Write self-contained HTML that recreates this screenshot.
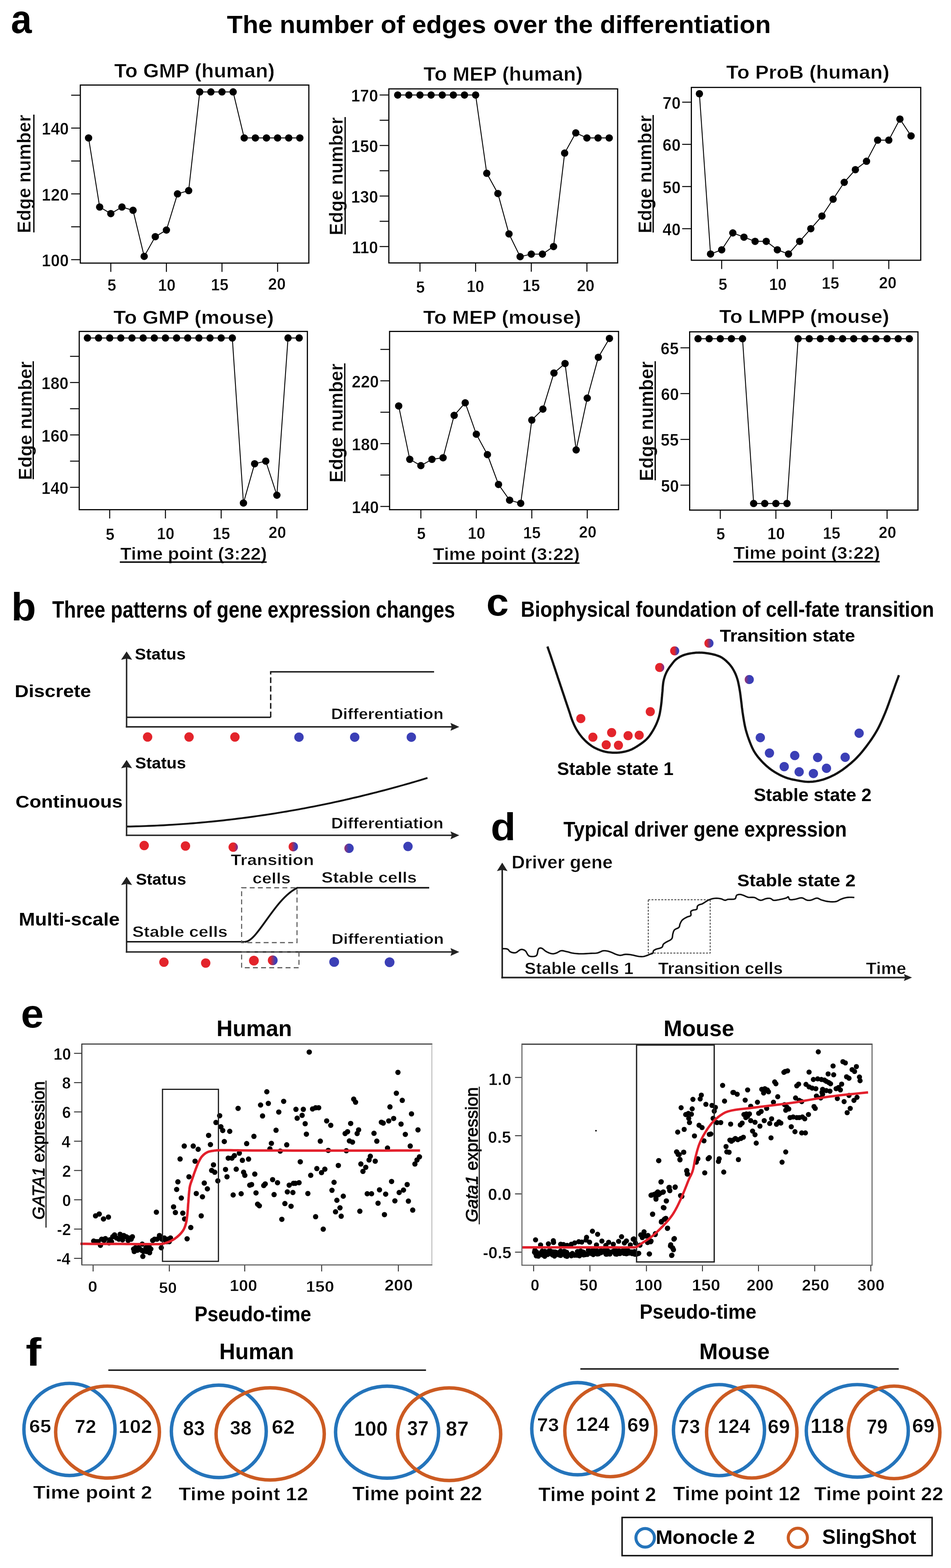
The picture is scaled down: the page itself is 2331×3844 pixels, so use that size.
<!DOCTYPE html>
<html><head><meta charset="utf-8"><title>Figure</title>
<style>html,body{margin:0;padding:0;background:#fff;}svg{display:block;}
text{font-family:"Liberation Sans",sans-serif;}</style></head>
<body><svg width="2331" height="3844" viewBox="0 0 2331 3844">
<rect width="2331" height="3844" fill="#fff"/>
<text x="26.7" y="81.4" font-size="98.2" font-weight="bold" font-style="normal" textLength="51.1" lengthAdjust="spacingAndGlyphs" fill="#000">a</text>
<text x="556.3" y="81.0" font-size="61.8" font-weight="bold" font-style="normal" textLength="1333.1" lengthAdjust="spacingAndGlyphs" fill="#000">The number of edges over the differentiation</text>
<rect x="196.9" y="208.5" width="560.1" height="436.5" fill="none" stroke="#000" stroke-width="2.8"/>
<line x1="174.4" y1="233.4" x2="196.9" y2="233.4" stroke="#000" stroke-width="2.4"/>
<line x1="174.4" y1="314.0" x2="196.9" y2="314.0" stroke="#000" stroke-width="2.4"/>
<line x1="174.4" y1="394.7" x2="196.9" y2="394.7" stroke="#000" stroke-width="2.4"/>
<line x1="174.4" y1="475.3" x2="196.9" y2="475.3" stroke="#000" stroke-width="2.4"/>
<line x1="174.4" y1="556.0" x2="196.9" y2="556.0" stroke="#000" stroke-width="2.4"/>
<line x1="174.4" y1="636.6" x2="196.9" y2="636.6" stroke="#000" stroke-width="2.4"/>
<line x1="271.6" y1="645.0" x2="271.6" y2="666.5" stroke="#000" stroke-width="2.4"/>
<line x1="407.9" y1="645.0" x2="407.9" y2="666.5" stroke="#000" stroke-width="2.4"/>
<line x1="544.1" y1="645.0" x2="544.1" y2="666.5" stroke="#000" stroke-width="2.4"/>
<line x1="680.4" y1="645.0" x2="680.4" y2="666.5" stroke="#000" stroke-width="2.4"/>
<text x="102.3" y="330.3" font-size="42.3" font-weight="bold" font-style="normal" textLength="66.3" lengthAdjust="spacingAndGlyphs" fill="#000" stroke="#fff" stroke-width="0.7">140</text>
<text x="102.3" y="491.6" font-size="42.3" font-weight="bold" font-style="normal" textLength="66.3" lengthAdjust="spacingAndGlyphs" fill="#000" stroke="#fff" stroke-width="0.7">120</text>
<text x="102.3" y="652.9" font-size="42.3" font-weight="bold" font-style="normal" textLength="66.3" lengthAdjust="spacingAndGlyphs" fill="#000" stroke="#fff" stroke-width="0.7">100</text>
<text x="263.2" y="712.9" font-size="41.4" font-weight="bold" font-style="normal" textLength="21.6" lengthAdjust="spacingAndGlyphs" fill="#000" stroke="#fff" stroke-width="0.7">5</text>
<text x="387.2" y="712.9" font-size="40.8" font-weight="bold" font-style="normal" textLength="43.1" lengthAdjust="spacingAndGlyphs" fill="#000" stroke="#fff" stroke-width="0.7">10</text>
<text x="516.9" y="712.3" font-size="41.4" font-weight="bold" font-style="normal" textLength="43.1" lengthAdjust="spacingAndGlyphs" fill="#000" stroke="#fff" stroke-width="0.7">15</text>
<text x="657.3" y="710.4" font-size="40.8" font-weight="bold" font-style="normal" textLength="43.1" lengthAdjust="spacingAndGlyphs" fill="#000" stroke="#fff" stroke-width="0.7">20</text>
<polyline points="217.1,338.2 244.3,507.6 271.6,523.7 298.9,507.6 326.1,515.6 353.4,628.5 380.6,580.2 407.9,564.0 435.1,475.3 462.4,467.3 489.6,225.3 516.9,225.3 544.1,225.3 571.4,225.3 598.6,338.2 625.9,338.2 653.1,338.2 680.4,338.2 707.7,338.2 734.9,338.2" fill="none" stroke="#000" stroke-width="2.2" stroke-linejoin="round"/>
<circle cx="217.1" cy="338.2" r="9" fill="#000"/>
<circle cx="244.3" cy="507.6" r="9" fill="#000"/>
<circle cx="271.6" cy="523.7" r="9" fill="#000"/>
<circle cx="298.9" cy="507.6" r="9" fill="#000"/>
<circle cx="326.1" cy="515.6" r="9" fill="#000"/>
<circle cx="353.4" cy="628.5" r="9" fill="#000"/>
<circle cx="380.6" cy="580.2" r="9" fill="#000"/>
<circle cx="407.9" cy="564.0" r="9" fill="#000"/>
<circle cx="435.1" cy="475.3" r="9" fill="#000"/>
<circle cx="462.4" cy="467.3" r="9" fill="#000"/>
<circle cx="489.6" cy="225.3" r="9" fill="#000"/>
<circle cx="516.9" cy="225.3" r="9" fill="#000"/>
<circle cx="544.1" cy="225.3" r="9" fill="#000"/>
<circle cx="571.4" cy="225.3" r="9" fill="#000"/>
<circle cx="598.6" cy="338.2" r="9" fill="#000"/>
<circle cx="625.9" cy="338.2" r="9" fill="#000"/>
<circle cx="653.1" cy="338.2" r="9" fill="#000"/>
<circle cx="680.4" cy="338.2" r="9" fill="#000"/>
<circle cx="707.7" cy="338.2" r="9" fill="#000"/>
<circle cx="734.9" cy="338.2" r="9" fill="#000"/>
<text x="280.1" y="190.0" font-size="48.7" font-weight="bold" font-style="normal" textLength="393.3" lengthAdjust="spacingAndGlyphs" fill="#000" stroke="#fff" stroke-width="0.7">To GMP (human)</text>
<g transform="translate(74.8,568.7) rotate(-90)"><text x="-3.0" y="0.0" font-size="45.4" font-weight="bold" font-style="normal" textLength="290.4" lengthAdjust="spacingAndGlyphs" fill="#000" stroke="#fff" stroke-width="0.7">Edge number</text></g>
<line x1="83.0" y1="569.7" x2="83.0" y2="281.0" stroke="#000" stroke-width="3.2"/>
<rect x="953.1" y="217.9" width="560.8" height="426.7" fill="none" stroke="#000" stroke-width="2.8"/>
<line x1="930.6" y1="232.9" x2="953.1" y2="232.9" stroke="#000" stroke-width="2.4"/>
<line x1="930.6" y1="294.8" x2="953.1" y2="294.8" stroke="#000" stroke-width="2.4"/>
<line x1="930.6" y1="356.7" x2="953.1" y2="356.7" stroke="#000" stroke-width="2.4"/>
<line x1="930.6" y1="418.6" x2="953.1" y2="418.6" stroke="#000" stroke-width="2.4"/>
<line x1="930.6" y1="480.6" x2="953.1" y2="480.6" stroke="#000" stroke-width="2.4"/>
<line x1="930.6" y1="542.5" x2="953.1" y2="542.5" stroke="#000" stroke-width="2.4"/>
<line x1="930.6" y1="604.4" x2="953.1" y2="604.4" stroke="#000" stroke-width="2.4"/>
<line x1="1029.4" y1="644.6" x2="1029.4" y2="666.1" stroke="#000" stroke-width="2.4"/>
<line x1="1165.8" y1="644.6" x2="1165.8" y2="666.1" stroke="#000" stroke-width="2.4"/>
<line x1="1302.2" y1="644.6" x2="1302.2" y2="666.1" stroke="#000" stroke-width="2.4"/>
<line x1="1438.6" y1="644.6" x2="1438.6" y2="666.1" stroke="#000" stroke-width="2.4"/>
<text x="860.5" y="249.2" font-size="42.3" font-weight="bold" font-style="normal" textLength="66.3" lengthAdjust="spacingAndGlyphs" fill="#000" stroke="#fff" stroke-width="0.7">170</text>
<text x="860.5" y="373.0" font-size="42.3" font-weight="bold" font-style="normal" textLength="66.3" lengthAdjust="spacingAndGlyphs" fill="#000" stroke="#fff" stroke-width="0.7">150</text>
<text x="860.5" y="496.8" font-size="42.3" font-weight="bold" font-style="normal" textLength="66.3" lengthAdjust="spacingAndGlyphs" fill="#000" stroke="#fff" stroke-width="0.7">130</text>
<text x="862.6" y="620.6" font-size="42.3" font-weight="bold" font-style="normal" textLength="64.1" lengthAdjust="spacingAndGlyphs" fill="#000" stroke="#fff" stroke-width="0.7">110</text>
<text x="1019.7" y="717.5" font-size="41.4" font-weight="bold" font-style="normal" textLength="21.6" lengthAdjust="spacingAndGlyphs" fill="#000" stroke="#fff" stroke-width="0.7">5</text>
<text x="1143.8" y="715.9" font-size="40.8" font-weight="bold" font-style="normal" textLength="43.1" lengthAdjust="spacingAndGlyphs" fill="#000" stroke="#fff" stroke-width="0.7">10</text>
<text x="1280.5" y="714.3" font-size="41.4" font-weight="bold" font-style="normal" textLength="43.1" lengthAdjust="spacingAndGlyphs" fill="#000" stroke="#fff" stroke-width="0.7">15</text>
<text x="1413.9" y="713.6" font-size="40.8" font-weight="bold" font-style="normal" textLength="43.1" lengthAdjust="spacingAndGlyphs" fill="#000" stroke="#fff" stroke-width="0.7">20</text>
<polyline points="974.8,232.9 1002.1,232.9 1029.4,232.9 1056.7,232.9 1084.0,232.9 1111.2,232.9 1138.5,232.9 1165.8,232.9 1193.1,424.8 1220.4,474.4 1247.6,573.4 1274.9,629.2 1302.2,623.0 1329.5,623.0 1356.8,604.4 1384.0,375.3 1411.3,325.8 1438.6,338.2 1465.9,338.2 1493.2,338.2" fill="none" stroke="#000" stroke-width="2.2" stroke-linejoin="round"/>
<circle cx="974.8" cy="232.9" r="9" fill="#000"/>
<circle cx="1002.1" cy="232.9" r="9" fill="#000"/>
<circle cx="1029.4" cy="232.9" r="9" fill="#000"/>
<circle cx="1056.7" cy="232.9" r="9" fill="#000"/>
<circle cx="1084.0" cy="232.9" r="9" fill="#000"/>
<circle cx="1111.2" cy="232.9" r="9" fill="#000"/>
<circle cx="1138.5" cy="232.9" r="9" fill="#000"/>
<circle cx="1165.8" cy="232.9" r="9" fill="#000"/>
<circle cx="1193.1" cy="424.8" r="9" fill="#000"/>
<circle cx="1220.4" cy="474.4" r="9" fill="#000"/>
<circle cx="1247.6" cy="573.4" r="9" fill="#000"/>
<circle cx="1274.9" cy="629.2" r="9" fill="#000"/>
<circle cx="1302.2" cy="623.0" r="9" fill="#000"/>
<circle cx="1329.5" cy="623.0" r="9" fill="#000"/>
<circle cx="1356.8" cy="604.4" r="9" fill="#000"/>
<circle cx="1384.0" cy="375.3" r="9" fill="#000"/>
<circle cx="1411.3" cy="325.8" r="9" fill="#000"/>
<circle cx="1438.6" cy="338.2" r="9" fill="#000"/>
<circle cx="1465.9" cy="338.2" r="9" fill="#000"/>
<circle cx="1493.2" cy="338.2" r="9" fill="#000"/>
<text x="1038.1" y="197.5" font-size="47.6" font-weight="bold" font-style="normal" textLength="390.2" lengthAdjust="spacingAndGlyphs" fill="#000" stroke="#fff" stroke-width="0.7">To MEP (human)</text>
<g transform="translate(839.5,574.0) rotate(-90)"><text x="-3.0" y="0.0" font-size="46.2" font-weight="bold" font-style="normal" textLength="289.7" lengthAdjust="spacingAndGlyphs" fill="#000" stroke="#fff" stroke-width="0.7">Edge number</text></g>
<line x1="846.0" y1="575.0" x2="846.0" y2="287.0" stroke="#000" stroke-width="3.2"/>
<rect x="1694.6" y="214.3" width="562.2" height="423.7" fill="none" stroke="#000" stroke-width="2.8"/>
<line x1="1672.1" y1="250.5" x2="1694.6" y2="250.5" stroke="#000" stroke-width="2.4"/>
<line x1="1672.1" y1="353.9" x2="1694.6" y2="353.9" stroke="#000" stroke-width="2.4"/>
<line x1="1672.1" y1="457.3" x2="1694.6" y2="457.3" stroke="#000" stroke-width="2.4"/>
<line x1="1672.1" y1="560.7" x2="1694.6" y2="560.7" stroke="#000" stroke-width="2.4"/>
<line x1="1768.9" y1="638.0" x2="1768.9" y2="659.5" stroke="#000" stroke-width="2.4"/>
<line x1="1905.4" y1="638.0" x2="1905.4" y2="659.5" stroke="#000" stroke-width="2.4"/>
<line x1="2042.0" y1="638.0" x2="2042.0" y2="659.5" stroke="#000" stroke-width="2.4"/>
<line x1="2178.5" y1="638.0" x2="2178.5" y2="659.5" stroke="#000" stroke-width="2.4"/>
<text x="1624.1" y="266.8" font-size="42.3" font-weight="bold" font-style="normal" textLength="44.2" lengthAdjust="spacingAndGlyphs" fill="#000" stroke="#fff" stroke-width="0.7">70</text>
<text x="1624.1" y="370.2" font-size="42.3" font-weight="bold" font-style="normal" textLength="44.2" lengthAdjust="spacingAndGlyphs" fill="#000" stroke="#fff" stroke-width="0.7">60</text>
<text x="1624.1" y="473.6" font-size="42.3" font-weight="bold" font-style="normal" textLength="44.2" lengthAdjust="spacingAndGlyphs" fill="#000" stroke="#fff" stroke-width="0.7">50</text>
<text x="1624.1" y="577.0" font-size="42.3" font-weight="bold" font-style="normal" textLength="44.2" lengthAdjust="spacingAndGlyphs" fill="#000" stroke="#fff" stroke-width="0.7">40</text>
<text x="1761.0" y="711.4" font-size="41.4" font-weight="bold" font-style="normal" textLength="21.6" lengthAdjust="spacingAndGlyphs" fill="#000" stroke="#fff" stroke-width="0.7">5</text>
<text x="1885.0" y="711.4" font-size="40.8" font-weight="bold" font-style="normal" textLength="43.1" lengthAdjust="spacingAndGlyphs" fill="#000" stroke="#fff" stroke-width="0.7">10</text>
<text x="2014.0" y="708.2" font-size="41.4" font-weight="bold" font-style="normal" textLength="43.1" lengthAdjust="spacingAndGlyphs" fill="#000" stroke="#fff" stroke-width="0.7">15</text>
<text x="2154.5" y="706.6" font-size="40.8" font-weight="bold" font-style="normal" textLength="43.1" lengthAdjust="spacingAndGlyphs" fill="#000" stroke="#fff" stroke-width="0.7">20</text>
<polyline points="1714.3,229.8 1741.6,622.7 1768.9,612.4 1796.2,571.0 1823.5,581.4 1850.8,591.7 1878.1,591.7 1905.4,612.4 1932.7,622.7 1960.0,591.7 1987.4,560.7 2014.7,529.7 2042.0,488.3 2069.3,447.0 2096.6,415.9 2123.9,395.3 2151.2,343.6 2178.5,343.6 2205.8,291.9 2233.1,333.2" fill="none" stroke="#000" stroke-width="2.2" stroke-linejoin="round"/>
<circle cx="1714.3" cy="229.8" r="9" fill="#000"/>
<circle cx="1741.6" cy="622.7" r="9" fill="#000"/>
<circle cx="1768.9" cy="612.4" r="9" fill="#000"/>
<circle cx="1796.2" cy="571.0" r="9" fill="#000"/>
<circle cx="1823.5" cy="581.4" r="9" fill="#000"/>
<circle cx="1850.8" cy="591.7" r="9" fill="#000"/>
<circle cx="1878.1" cy="591.7" r="9" fill="#000"/>
<circle cx="1905.4" cy="612.4" r="9" fill="#000"/>
<circle cx="1932.7" cy="622.7" r="9" fill="#000"/>
<circle cx="1960.0" cy="591.7" r="9" fill="#000"/>
<circle cx="1987.4" cy="560.7" r="9" fill="#000"/>
<circle cx="2014.7" cy="529.7" r="9" fill="#000"/>
<circle cx="2042.0" cy="488.3" r="9" fill="#000"/>
<circle cx="2069.3" cy="447.0" r="9" fill="#000"/>
<circle cx="2096.6" cy="415.9" r="9" fill="#000"/>
<circle cx="2123.9" cy="395.3" r="9" fill="#000"/>
<circle cx="2151.2" cy="343.6" r="9" fill="#000"/>
<circle cx="2178.5" cy="343.6" r="9" fill="#000"/>
<circle cx="2205.8" cy="291.9" r="9" fill="#000"/>
<circle cx="2233.1" cy="333.2" r="9" fill="#000"/>
<text x="1780.1" y="192.7" font-size="46.8" font-weight="bold" font-style="normal" textLength="400.0" lengthAdjust="spacingAndGlyphs" fill="#000" stroke="#fff" stroke-width="0.7">To ProB (human)</text>
<g transform="translate(1596.5,569.0) rotate(-90)"><text x="-3.0" y="0.0" font-size="46.2" font-weight="bold" font-style="normal" textLength="289.7" lengthAdjust="spacingAndGlyphs" fill="#000" stroke="#fff" stroke-width="0.7">Edge number</text></g>
<line x1="1601.0" y1="570.0" x2="1601.0" y2="282.0" stroke="#000" stroke-width="3.2"/>
<rect x="194.2" y="812.5" width="559.2" height="437.0" fill="none" stroke="#000" stroke-width="2.8"/>
<line x1="171.7" y1="873.6" x2="194.2" y2="873.6" stroke="#000" stroke-width="2.4"/>
<line x1="171.7" y1="937.8" x2="194.2" y2="937.8" stroke="#000" stroke-width="2.4"/>
<line x1="171.7" y1="1002.0" x2="194.2" y2="1002.0" stroke="#000" stroke-width="2.4"/>
<line x1="171.7" y1="1066.2" x2="194.2" y2="1066.2" stroke="#000" stroke-width="2.4"/>
<line x1="171.7" y1="1130.5" x2="194.2" y2="1130.5" stroke="#000" stroke-width="2.4"/>
<line x1="171.7" y1="1194.7" x2="194.2" y2="1194.7" stroke="#000" stroke-width="2.4"/>
<line x1="268.9" y1="1249.5" x2="268.9" y2="1271.0" stroke="#000" stroke-width="2.4"/>
<line x1="405.5" y1="1249.5" x2="405.5" y2="1271.0" stroke="#000" stroke-width="2.4"/>
<line x1="542.1" y1="1249.5" x2="542.1" y2="1271.0" stroke="#000" stroke-width="2.4"/>
<line x1="678.7" y1="1249.5" x2="678.7" y2="1271.0" stroke="#000" stroke-width="2.4"/>
<text x="101.6" y="954.0" font-size="42.3" font-weight="bold" font-style="normal" textLength="66.3" lengthAdjust="spacingAndGlyphs" fill="#000" stroke="#fff" stroke-width="0.7">180</text>
<text x="101.6" y="1082.5" font-size="42.3" font-weight="bold" font-style="normal" textLength="66.3" lengthAdjust="spacingAndGlyphs" fill="#000" stroke="#fff" stroke-width="0.7">160</text>
<text x="101.6" y="1211.0" font-size="42.3" font-weight="bold" font-style="normal" textLength="66.3" lengthAdjust="spacingAndGlyphs" fill="#000" stroke="#fff" stroke-width="0.7">140</text>
<text x="259.1" y="1324.3" font-size="41.4" font-weight="bold" font-style="normal" textLength="21.6" lengthAdjust="spacingAndGlyphs" fill="#000" stroke="#fff" stroke-width="0.7">5</text>
<text x="384.5" y="1322.4" font-size="40.8" font-weight="bold" font-style="normal" textLength="43.1" lengthAdjust="spacingAndGlyphs" fill="#000" stroke="#fff" stroke-width="0.7">10</text>
<text x="520.9" y="1321.8" font-size="41.4" font-weight="bold" font-style="normal" textLength="43.1" lengthAdjust="spacingAndGlyphs" fill="#000" stroke="#fff" stroke-width="0.7">15</text>
<text x="658.2" y="1319.2" font-size="40.8" font-weight="bold" font-style="normal" textLength="43.1" lengthAdjust="spacingAndGlyphs" fill="#000" stroke="#fff" stroke-width="0.7">20</text>
<polyline points="214.3,828.6 241.6,828.6 268.9,828.6 296.2,828.6 323.5,828.6 350.9,828.6 378.2,828.6 405.5,828.6 432.8,828.6 460.1,828.6 487.5,828.6 514.8,828.6 542.1,828.6 569.4,828.6 596.7,1233.2 624.1,1136.9 651.4,1130.5 678.7,1214.0 706.0,828.6 733.3,828.6" fill="none" stroke="#000" stroke-width="2.2" stroke-linejoin="round"/>
<circle cx="214.3" cy="828.6" r="9" fill="#000"/>
<circle cx="241.6" cy="828.6" r="9" fill="#000"/>
<circle cx="268.9" cy="828.6" r="9" fill="#000"/>
<circle cx="296.2" cy="828.6" r="9" fill="#000"/>
<circle cx="323.5" cy="828.6" r="9" fill="#000"/>
<circle cx="350.9" cy="828.6" r="9" fill="#000"/>
<circle cx="378.2" cy="828.6" r="9" fill="#000"/>
<circle cx="405.5" cy="828.6" r="9" fill="#000"/>
<circle cx="432.8" cy="828.6" r="9" fill="#000"/>
<circle cx="460.1" cy="828.6" r="9" fill="#000"/>
<circle cx="487.5" cy="828.6" r="9" fill="#000"/>
<circle cx="514.8" cy="828.6" r="9" fill="#000"/>
<circle cx="542.1" cy="828.6" r="9" fill="#000"/>
<circle cx="569.4" cy="828.6" r="9" fill="#000"/>
<circle cx="596.7" cy="1233.2" r="9" fill="#000"/>
<circle cx="624.1" cy="1136.9" r="9" fill="#000"/>
<circle cx="651.4" cy="1130.5" r="9" fill="#000"/>
<circle cx="678.7" cy="1214.0" r="9" fill="#000"/>
<circle cx="706.0" cy="828.6" r="9" fill="#000"/>
<circle cx="733.3" cy="828.6" r="9" fill="#000"/>
<text x="278.1" y="793.9" font-size="45.7" font-weight="bold" font-style="normal" textLength="393.2" lengthAdjust="spacingAndGlyphs" fill="#000" stroke="#fff" stroke-width="0.7">To GMP (mouse)</text>
<g transform="translate(78.0,1173.8) rotate(-90)"><text x="-3.1" y="0.0" font-size="45.5" font-weight="bold" font-style="normal" textLength="290.9" lengthAdjust="spacingAndGlyphs" fill="#000" stroke="#fff" stroke-width="0.7">Edge number</text></g>
<line x1="81.5" y1="1174.8" x2="81.5" y2="885.6" stroke="#000" stroke-width="3.2"/>
<text x="294.7" y="1371.9" font-size="41.7" font-weight="bold" font-style="normal" textLength="359.7" lengthAdjust="spacingAndGlyphs" fill="#000" stroke="#fff" stroke-width="0.7">Time point (3:22)</text>
<line x1="293.7" y1="1378.0" x2="653.6" y2="1378.0" stroke="#000" stroke-width="3.4"/>
<rect x="954.9" y="812.5" width="561.2" height="437.0" fill="none" stroke="#000" stroke-width="2.8"/>
<line x1="932.4" y1="856.6" x2="954.9" y2="856.6" stroke="#000" stroke-width="2.4"/>
<line x1="932.4" y1="933.6" x2="954.9" y2="933.6" stroke="#000" stroke-width="2.4"/>
<line x1="932.4" y1="1010.6" x2="954.9" y2="1010.6" stroke="#000" stroke-width="2.4"/>
<line x1="932.4" y1="1087.6" x2="954.9" y2="1087.6" stroke="#000" stroke-width="2.4"/>
<line x1="932.4" y1="1164.6" x2="954.9" y2="1164.6" stroke="#000" stroke-width="2.4"/>
<line x1="932.4" y1="1241.6" x2="954.9" y2="1241.6" stroke="#000" stroke-width="2.4"/>
<line x1="1031.6" y1="1249.5" x2="1031.6" y2="1271.0" stroke="#000" stroke-width="2.4"/>
<line x1="1167.5" y1="1249.5" x2="1167.5" y2="1271.0" stroke="#000" stroke-width="2.4"/>
<line x1="1303.5" y1="1249.5" x2="1303.5" y2="1271.0" stroke="#000" stroke-width="2.4"/>
<line x1="1439.4" y1="1249.5" x2="1439.4" y2="1271.0" stroke="#000" stroke-width="2.4"/>
<text x="862.3" y="949.9" font-size="42.3" font-weight="bold" font-style="normal" textLength="66.3" lengthAdjust="spacingAndGlyphs" fill="#000" stroke="#fff" stroke-width="0.7">220</text>
<text x="862.3" y="1103.8" font-size="42.3" font-weight="bold" font-style="normal" textLength="66.3" lengthAdjust="spacingAndGlyphs" fill="#000" stroke="#fff" stroke-width="0.7">180</text>
<text x="862.3" y="1257.8" font-size="42.3" font-weight="bold" font-style="normal" textLength="66.3" lengthAdjust="spacingAndGlyphs" fill="#000" stroke="#fff" stroke-width="0.7">140</text>
<text x="1021.8" y="1321.8" font-size="41.4" font-weight="bold" font-style="normal" textLength="21.6" lengthAdjust="spacingAndGlyphs" fill="#000" stroke="#fff" stroke-width="0.7">5</text>
<text x="1146.5" y="1321.1" font-size="40.8" font-weight="bold" font-style="normal" textLength="43.1" lengthAdjust="spacingAndGlyphs" fill="#000" stroke="#fff" stroke-width="0.7">10</text>
<text x="1282.2" y="1320.2" font-size="41.4" font-weight="bold" font-style="normal" textLength="43.1" lengthAdjust="spacingAndGlyphs" fill="#000" stroke="#fff" stroke-width="0.7">15</text>
<text x="1418.9" y="1317.9" font-size="40.8" font-weight="bold" font-style="normal" textLength="43.1" lengthAdjust="spacingAndGlyphs" fill="#000" stroke="#fff" stroke-width="0.7">20</text>
<polyline points="977.2,995.2 1004.4,1126.1 1031.6,1141.5 1058.8,1126.1 1086.0,1122.2 1113.2,1018.3 1140.3,987.5 1167.5,1064.5 1194.7,1114.5 1221.9,1187.7 1249.1,1226.2 1276.3,1233.9 1303.5,1029.8 1330.7,1002.9 1357.8,914.4 1385.0,891.2 1412.2,1103.0 1439.4,976.0 1466.6,875.9 1493.8,829.7" fill="none" stroke="#000" stroke-width="2.2" stroke-linejoin="round"/>
<circle cx="977.2" cy="995.2" r="9" fill="#000"/>
<circle cx="1004.4" cy="1126.1" r="9" fill="#000"/>
<circle cx="1031.6" cy="1141.5" r="9" fill="#000"/>
<circle cx="1058.8" cy="1126.1" r="9" fill="#000"/>
<circle cx="1086.0" cy="1122.2" r="9" fill="#000"/>
<circle cx="1113.2" cy="1018.3" r="9" fill="#000"/>
<circle cx="1140.3" cy="987.5" r="9" fill="#000"/>
<circle cx="1167.5" cy="1064.5" r="9" fill="#000"/>
<circle cx="1194.7" cy="1114.5" r="9" fill="#000"/>
<circle cx="1221.9" cy="1187.7" r="9" fill="#000"/>
<circle cx="1249.1" cy="1226.2" r="9" fill="#000"/>
<circle cx="1276.3" cy="1233.9" r="9" fill="#000"/>
<circle cx="1303.5" cy="1029.8" r="9" fill="#000"/>
<circle cx="1330.7" cy="1002.9" r="9" fill="#000"/>
<circle cx="1357.8" cy="914.4" r="9" fill="#000"/>
<circle cx="1385.0" cy="891.2" r="9" fill="#000"/>
<circle cx="1412.2" cy="1103.0" r="9" fill="#000"/>
<circle cx="1439.4" cy="976.0" r="9" fill="#000"/>
<circle cx="1466.6" cy="875.9" r="9" fill="#000"/>
<circle cx="1493.8" cy="829.7" r="9" fill="#000"/>
<text x="1037.3" y="793.9" font-size="45.7" font-weight="bold" font-style="normal" textLength="386.9" lengthAdjust="spacingAndGlyphs" fill="#000" stroke="#fff" stroke-width="0.7">To MEP (mouse)</text>
<g transform="translate(840.0,1180.0) rotate(-90)"><text x="-3.1" y="0.0" font-size="46.9" font-weight="bold" font-style="normal" textLength="291.9" lengthAdjust="spacingAndGlyphs" fill="#000" stroke="#fff" stroke-width="0.7">Edge number</text></g>
<line x1="845.0" y1="1181.0" x2="845.0" y2="890.8" stroke="#000" stroke-width="3.2"/>
<text x="1061.5" y="1372.8" font-size="42.5" font-weight="bold" font-style="normal" textLength="359.6" lengthAdjust="spacingAndGlyphs" fill="#000" stroke="#fff" stroke-width="0.7">Time point (3:22)</text>
<line x1="1060.5" y1="1380.5" x2="1420.3" y2="1380.5" stroke="#000" stroke-width="3.4"/>
<rect x="1690.4" y="813.5" width="559.6" height="437.0" fill="none" stroke="#000" stroke-width="2.8"/>
<line x1="1667.9" y1="852.7" x2="1690.4" y2="852.7" stroke="#000" stroke-width="2.4"/>
<line x1="1667.9" y1="964.9" x2="1690.4" y2="964.9" stroke="#000" stroke-width="2.4"/>
<line x1="1667.9" y1="1077.2" x2="1690.4" y2="1077.2" stroke="#000" stroke-width="2.4"/>
<line x1="1667.9" y1="1189.4" x2="1690.4" y2="1189.4" stroke="#000" stroke-width="2.4"/>
<line x1="1765.5" y1="1250.5" x2="1765.5" y2="1272.0" stroke="#000" stroke-width="2.4"/>
<line x1="1901.8" y1="1250.5" x2="1901.8" y2="1272.0" stroke="#000" stroke-width="2.4"/>
<line x1="2038.0" y1="1250.5" x2="2038.0" y2="1272.0" stroke="#000" stroke-width="2.4"/>
<line x1="2174.3" y1="1250.5" x2="2174.3" y2="1272.0" stroke="#000" stroke-width="2.4"/>
<text x="1619.3" y="869.0" font-size="42.3" font-weight="bold" font-style="normal" textLength="44.2" lengthAdjust="spacingAndGlyphs" fill="#000" stroke="#fff" stroke-width="0.7">65</text>
<text x="1619.9" y="981.2" font-size="42.3" font-weight="bold" font-style="normal" textLength="44.2" lengthAdjust="spacingAndGlyphs" fill="#000" stroke="#fff" stroke-width="0.7">60</text>
<text x="1619.3" y="1093.4" font-size="42.9" font-weight="bold" font-style="normal" textLength="44.2" lengthAdjust="spacingAndGlyphs" fill="#000" stroke="#fff" stroke-width="0.7">55</text>
<text x="1619.9" y="1205.7" font-size="42.3" font-weight="bold" font-style="normal" textLength="44.2" lengthAdjust="spacingAndGlyphs" fill="#000" stroke="#fff" stroke-width="0.7">50</text>
<text x="1755.7" y="1323.4" font-size="41.4" font-weight="bold" font-style="normal" textLength="21.6" lengthAdjust="spacingAndGlyphs" fill="#000" stroke="#fff" stroke-width="0.7">5</text>
<text x="1880.8" y="1322.4" font-size="40.8" font-weight="bold" font-style="normal" textLength="43.1" lengthAdjust="spacingAndGlyphs" fill="#000" stroke="#fff" stroke-width="0.7">10</text>
<text x="2016.8" y="1321.1" font-size="41.4" font-weight="bold" font-style="normal" textLength="43.1" lengthAdjust="spacingAndGlyphs" fill="#000" stroke="#fff" stroke-width="0.7">15</text>
<text x="2153.8" y="1318.6" font-size="40.8" font-weight="bold" font-style="normal" textLength="43.1" lengthAdjust="spacingAndGlyphs" fill="#000" stroke="#fff" stroke-width="0.7">20</text>
<polyline points="1711.0,830.3 1738.2,830.3 1765.5,830.3 1792.8,830.3 1820.0,830.3 1847.3,1234.3 1874.5,1234.3 1901.8,1234.3 1929.0,1234.3 1956.3,830.3 1983.5,830.3 2010.8,830.3 2038.0,830.3 2065.3,830.3 2092.5,830.3 2119.8,830.3 2147.0,830.3 2174.3,830.3 2201.6,830.3 2228.8,830.3" fill="none" stroke="#000" stroke-width="2.2" stroke-linejoin="round"/>
<circle cx="1711.0" cy="830.3" r="9" fill="#000"/>
<circle cx="1738.2" cy="830.3" r="9" fill="#000"/>
<circle cx="1765.5" cy="830.3" r="9" fill="#000"/>
<circle cx="1792.8" cy="830.3" r="9" fill="#000"/>
<circle cx="1820.0" cy="830.3" r="9" fill="#000"/>
<circle cx="1847.3" cy="1234.3" r="9" fill="#000"/>
<circle cx="1874.5" cy="1234.3" r="9" fill="#000"/>
<circle cx="1901.8" cy="1234.3" r="9" fill="#000"/>
<circle cx="1929.0" cy="1234.3" r="9" fill="#000"/>
<circle cx="1956.3" cy="830.3" r="9" fill="#000"/>
<circle cx="1983.5" cy="830.3" r="9" fill="#000"/>
<circle cx="2010.8" cy="830.3" r="9" fill="#000"/>
<circle cx="2038.0" cy="830.3" r="9" fill="#000"/>
<circle cx="2065.3" cy="830.3" r="9" fill="#000"/>
<circle cx="2092.5" cy="830.3" r="9" fill="#000"/>
<circle cx="2119.8" cy="830.3" r="9" fill="#000"/>
<circle cx="2147.0" cy="830.3" r="9" fill="#000"/>
<circle cx="2174.3" cy="830.3" r="9" fill="#000"/>
<circle cx="2201.6" cy="830.3" r="9" fill="#000"/>
<circle cx="2228.8" cy="830.3" r="9" fill="#000"/>
<text x="1762.8" y="792.1" font-size="46.6" font-weight="bold" font-style="normal" textLength="416.8" lengthAdjust="spacingAndGlyphs" fill="#000" stroke="#fff" stroke-width="0.7">To LMPP (mouse)</text>
<g transform="translate(1601.0,1176.4) rotate(-90)"><text x="-3.1" y="0.0" font-size="48.3" font-weight="bold" font-style="normal" textLength="293.6" lengthAdjust="spacingAndGlyphs" fill="#000" stroke="#fff" stroke-width="0.7">Edge number</text></g>
<line x1="1606.0" y1="1177.4" x2="1606.0" y2="885.6" stroke="#000" stroke-width="3.2"/>
<text x="1798.2" y="1370.2" font-size="42.5" font-weight="bold" font-style="normal" textLength="358.9" lengthAdjust="spacingAndGlyphs" fill="#000" stroke="#fff" stroke-width="0.7">Time point (3:22)</text>
<line x1="1797.2" y1="1377.0" x2="2156.3" y2="1377.0" stroke="#000" stroke-width="3.4"/>
<defs><marker id="arr" viewBox="0 0 10 10" refX="10" refY="5" markerWidth="8" markerHeight="8" markerUnits="userSpaceOnUse"><path d="M0,0 L10,5 L0,10 z"/></marker><linearGradient id="mixRB"><stop offset="0.25" stop-color="#e3242b"/><stop offset="0.75" stop-color="#3b3fb6"/></linearGradient><linearGradient id="mixR"><stop offset="0.6" stop-color="#e3242b"/><stop offset="1" stop-color="#6a30a0"/></linearGradient><linearGradient id="mixB"><stop offset="0" stop-color="#a0306a"/><stop offset="0.45" stop-color="#3b3fb6"/></linearGradient><linearGradient id="mixRB2"><stop offset="0.45" stop-color="#e3242b"/><stop offset="0.8" stop-color="#3b3fb6"/></linearGradient></defs>
<text x="27.4" y="1521.3" font-size="95.6" font-weight="bold" font-style="normal" textLength="61.0" lengthAdjust="spacingAndGlyphs" fill="#000">b</text>
<text x="127.9" y="1514.3" font-size="58.2" font-weight="bold" font-style="normal" textLength="987.4" lengthAdjust="spacingAndGlyphs" fill="#000">Three patterns of gene expression changes</text>
<line x1="310.3" y1="1611.1" x2="310.3" y2="1783.6" stroke="#262626" stroke-width="3.6"/>
<path d="M296.8,1617.6 L310.3,1597.1 L323.8,1617.6 L310.3,1614.5 z" fill="#222"/>
<line x1="308.5" y1="1781.9" x2="1110.0" y2="1781.9" stroke="#262626" stroke-width="3.6"/>
<path d="M1104.2,1772.3 L1125.7,1781.9 L1104.2,1791.5 L1107.4,1781.9 z" fill="#222"/>
<text x="330.4" y="1616.9" font-size="38.3" font-weight="bold" font-style="normal" textLength="124.8" lengthAdjust="spacingAndGlyphs" fill="#000">Status</text>
<text x="35.9" y="1709.3" font-size="42.5" font-weight="bold" font-style="normal" textLength="187.4" lengthAdjust="spacingAndGlyphs" fill="#000">Discrete</text>
<text x="811.4" y="1763.2" font-size="36.1" font-weight="bold" font-style="normal" textLength="275.6" lengthAdjust="spacingAndGlyphs" fill="#000" stroke="#fff" stroke-width="0.7">Differentiation</text>
<line x1="310.3" y1="1758.5" x2="663.5" y2="1758.5" stroke="#1a1a1a" stroke-width="3.4"/>
<line x1="663.5" y1="1758.5" x2="663.5" y2="1647.0" stroke="#1a1a1a" stroke-width="3.4" stroke-dasharray="14,7"/>
<line x1="661.8" y1="1647.0" x2="1064.0" y2="1647.0" stroke="#1a1a1a" stroke-width="3.4"/>
<circle cx="361.8" cy="1806.8" r="11.5" fill="#e3242b"/>
<circle cx="463.4" cy="1806.8" r="11.5" fill="#e3242b"/>
<circle cx="575.8" cy="1806.8" r="11.5" fill="#e3242b"/>
<circle cx="732.8" cy="1807.2" r="11.5" fill="#3b3fb6"/>
<circle cx="869.4" cy="1807.2" r="11.5" fill="#3b3fb6"/>
<circle cx="1008.2" cy="1807.2" r="11.5" fill="#3b3fb6"/>
<line x1="310.3" y1="1877.1" x2="310.3" y2="2049.5" stroke="#262626" stroke-width="3.6"/>
<path d="M296.8,1883.6 L310.3,1863.1 L323.8,1883.6 L310.3,1880.5 z" fill="#222"/>
<line x1="308.5" y1="2047.8" x2="1110.0" y2="2047.8" stroke="#262626" stroke-width="3.6"/>
<path d="M1104.2,2038.2 L1125.7,2047.8 L1104.2,2057.4 L1107.4,2047.8 z" fill="#222"/>
<text x="331.3" y="1883.7" font-size="38.4" font-weight="bold" font-style="normal" textLength="124.5" lengthAdjust="spacingAndGlyphs" fill="#000">Status</text>
<text x="38.1" y="1980.1" font-size="42.5" font-weight="bold" font-style="normal" textLength="262.5" lengthAdjust="spacingAndGlyphs" fill="#000">Continuous</text>
<text x="811.7" y="2030.5" font-size="36.6" font-weight="bold" font-style="normal" textLength="275.1" lengthAdjust="spacingAndGlyphs" fill="#000" stroke="#fff" stroke-width="0.7">Differentiation</text>
<polyline points="311.8,2026.3 319.2,2026.2 326.5,2026.0 333.9,2025.8 341.2,2025.6 348.6,2025.4 356.0,2025.1 363.3,2024.8 370.7,2024.5 378.0,2024.2 385.4,2023.9 392.8,2023.5 400.1,2023.2 407.5,2022.8 414.8,2022.3 422.2,2021.9 429.6,2021.4 436.9,2020.9 444.3,2020.4 451.6,2019.9 459.0,2019.4 466.4,2018.8 473.7,2018.2 481.1,2017.6 488.4,2017.0 495.8,2016.3 503.2,2015.6 510.5,2014.9 517.9,2014.2 525.2,2013.5 532.6,2012.7 540.0,2012.0 547.3,2011.2 554.7,2010.3 562.0,2009.5 569.4,2008.6 576.8,2007.7 584.1,2006.8 591.5,2005.9 598.8,2005.0 606.2,2004.0 613.6,2003.0 620.9,2002.0 628.3,2000.9 635.6,1999.9 643.0,1998.8 650.4,1997.7 657.7,1996.6 665.1,1995.5 672.4,1994.3 679.8,1993.1 687.2,1991.9 694.5,1990.7 701.9,1989.5 709.2,1988.2 716.6,1986.9 724.0,1985.6 731.3,1984.3 738.7,1982.9 746.0,1981.6 753.4,1980.2 760.8,1978.7 768.1,1977.3 775.5,1975.9 782.8,1974.4 790.2,1972.9 797.6,1971.4 804.9,1969.8 812.3,1968.3 819.6,1966.7 827.0,1965.1 834.4,1963.5 841.7,1961.8 849.1,1960.1 856.4,1958.5 863.8,1956.7 871.2,1955.0 878.5,1953.3 885.9,1951.5 893.2,1949.7 900.6,1947.9 908.0,1946.0 915.3,1944.2 922.7,1942.3 930.0,1940.4 937.4,1938.5 944.8,1936.6 952.1,1934.6 959.5,1932.6 966.8,1930.6 974.2,1928.6 981.6,1926.5 988.9,1924.5 996.3,1922.4 1003.6,1920.3 1011.0,1918.1 1018.4,1916.0 1025.7,1913.8 1033.1,1911.6 1040.4,1909.4 1047.8,1907.2" fill="none" stroke="#111" stroke-width="4.4" stroke-linejoin="round"/>
<circle cx="353.4" cy="2072.8" r="11.5" fill="#e3242b"/>
<circle cx="454.6" cy="2074.0" r="11.5" fill="#e3242b"/>
<circle cx="571.6" cy="2076.8" r="11.5" fill="url(#mixR)"/>
<circle cx="718.9" cy="2075.7" r="11.5" fill="url(#mixRB)"/>
<circle cx="855.5" cy="2079.6" r="11.5" fill="url(#mixB)"/>
<circle cx="1000.0" cy="2075.1" r="11.5" fill="#3b3fb6"/>
<line x1="310.3" y1="2163.3" x2="310.3" y2="2335.5" stroke="#262626" stroke-width="3.6"/>
<path d="M296.8,2169.8 L310.3,2149.3 L323.8,2169.8 L310.3,2166.7 z" fill="#222"/>
<line x1="308.5" y1="2333.8" x2="1110.0" y2="2333.8" stroke="#262626" stroke-width="3.6"/>
<path d="M1104.2,2324.2 L1125.7,2333.8 L1104.2,2343.4 L1107.4,2333.8 z" fill="#222"/>
<text x="332.9" y="2168.8" font-size="38.7" font-weight="bold" font-style="normal" textLength="123.5" lengthAdjust="spacingAndGlyphs" fill="#000">Status</text>
<text x="565.6" y="2121.4" font-size="37.8" font-weight="bold" font-style="normal" textLength="203.9" lengthAdjust="spacingAndGlyphs" fill="#000" stroke="#fff" stroke-width="0.7">Transition</text>
<text x="618.7" y="2166.3" font-size="36.0" font-weight="bold" font-style="normal" textLength="93.8" lengthAdjust="spacingAndGlyphs" fill="#000" stroke="#fff" stroke-width="0.7">cells</text>
<text x="787.8" y="2163.5" font-size="36.0" font-weight="bold" font-style="normal" textLength="233.9" lengthAdjust="spacingAndGlyphs" fill="#000" stroke="#fff" stroke-width="0.7">Stable cells</text>
<text x="46.0" y="2269.3" font-size="44.0" font-weight="bold" font-style="normal" textLength="247.3" lengthAdjust="spacingAndGlyphs" fill="#000">Multi-scale</text>
<text x="324.3" y="2296.6" font-size="37.7" font-weight="bold" font-style="normal" textLength="233.5" lengthAdjust="spacingAndGlyphs" fill="#000" stroke="#fff" stroke-width="0.7">Stable cells</text>
<text x="812.4" y="2314.1" font-size="34.9" font-weight="bold" font-style="normal" textLength="275.5" lengthAdjust="spacingAndGlyphs" fill="#000" stroke="#fff" stroke-width="0.7">Differentiation</text>
<line x1="310.3" y1="2308.8" x2="600.5" y2="2308.8" stroke="#111" stroke-width="3.6"/>
<path d="M600.2,2308.9 C631,2308.9 672,2204 728.8,2176.4" fill="none" stroke="#111" stroke-width="4.4"/>
<line x1="727.0" y1="2176.4" x2="1052.0" y2="2176.4" stroke="#111" stroke-width="3.6"/>
<rect x="592.2" y="2176.4" width="135.8" height="134.5" fill="none" stroke="#5a5a5a" stroke-width="2.6" stroke-dasharray="12,8"/>
<rect x="592.2" y="2333.8" width="140.6" height="38.6" fill="none" stroke="#5a5a5a" stroke-width="2.6" stroke-dasharray="12,8"/>
<circle cx="401.8" cy="2358.8" r="11.5" fill="#e3242b"/>
<circle cx="504.2" cy="2361.0" r="11.5" fill="#e3242b"/>
<circle cx="622.3" cy="2355.1" r="12" fill="#e3242b"/>
<circle cx="668.5" cy="2354.3" r="12" fill="url(#mixRB)"/>
<circle cx="819.1" cy="2358.3" r="12" fill="#3b3fb6"/>
<circle cx="954.9" cy="2359.1" r="12" fill="#3b3fb6"/>
<text x="1192.1" y="1509.3" font-size="95.4" font-weight="bold" font-style="normal" textLength="55.0" lengthAdjust="spacingAndGlyphs" fill="#000">c</text>
<text x="1276.4" y="1512.0" font-size="53.8" font-weight="bold" font-style="normal" textLength="1013.0" lengthAdjust="spacingAndGlyphs" fill="#000">Biophysical foundation of cell-fate transition</text>
<text x="1764.6" y="1573.3" font-size="42.6" font-weight="bold" font-style="normal" textLength="331.4" lengthAdjust="spacingAndGlyphs" fill="#000">Transition state</text>
<text x="1365.6" y="1900.4" font-size="45.2" font-weight="bold" font-style="normal" textLength="285.4" lengthAdjust="spacingAndGlyphs" fill="#000">Stable state 1</text>
<text x="1847.4" y="1964.2" font-size="45.2" font-weight="bold" font-style="normal" textLength="288.9" lengthAdjust="spacingAndGlyphs" fill="#000">Stable state 2</text>
<polyline points="1341.8,1585.0 1343.0,1588.5 1344.2,1591.9 1345.4,1595.3 1346.6,1598.8 1347.8,1602.2 1349.0,1605.7 1350.2,1609.2 1351.4,1612.8 1352.7,1616.7 1354.0,1620.7 1355.4,1624.7 1356.7,1628.8 1358.1,1632.8 1359.4,1636.9 1360.8,1641.0 1362.1,1645.0 1363.4,1649.0 1364.8,1653.0 1366.1,1657.0 1367.4,1661.1 1368.8,1665.1 1370.1,1669.1 1371.5,1673.1 1372.8,1677.1 1374.1,1681.1 1375.5,1685.1 1376.8,1689.1 1378.1,1693.2 1379.5,1697.2 1380.8,1701.2 1382.2,1705.2 1383.5,1709.2 1384.8,1713.2 1386.2,1717.3 1387.6,1721.3 1388.9,1725.4 1390.3,1729.4 1391.6,1733.4 1393.0,1737.4 1394.3,1741.3 1395.5,1744.9 1396.7,1748.5 1397.8,1752.0 1398.9,1755.6 1400.1,1759.1 1401.3,1762.5 1402.6,1765.9 1403.9,1769.2 1405.2,1772.3 1406.5,1775.3 1407.9,1778.3 1409.3,1781.3 1410.8,1784.2 1412.3,1787.1 1414.0,1789.9 1415.7,1792.7 1417.6,1795.5 1419.5,1798.4 1421.5,1801.1 1423.7,1803.9 1425.8,1806.6 1428.1,1809.2 1430.4,1811.7 1432.8,1814.2 1435.2,1816.6 1437.8,1818.9 1440.3,1821.2 1443.0,1823.4 1445.7,1825.6 1448.5,1827.6 1451.3,1829.5 1454.2,1831.3 1457.2,1833.0 1460.4,1834.6 1463.6,1836.1 1466.9,1837.5 1470.2,1838.8 1473.5,1840.0 1476.7,1841.1 1479.9,1842.0 1482.6,1842.7 1485.3,1843.3 1488.0,1843.8 1490.7,1844.2 1493.3,1844.6 1496.0,1844.8 1498.6,1845.0 1501.3,1845.2 1504.0,1845.3 1506.7,1845.3 1509.4,1845.3 1512.1,1845.2 1514.8,1845.1 1517.4,1844.9 1520.1,1844.6 1522.8,1844.2 1525.5,1843.8 1528.2,1843.3 1530.9,1842.7 1533.6,1842.1 1536.3,1841.4 1538.9,1840.7 1541.6,1839.8 1544.2,1838.8 1546.9,1837.7 1549.7,1836.4 1552.4,1835.0 1555.0,1833.6 1557.7,1832.0 1560.4,1830.4 1563.0,1828.7 1565.6,1827.0 1568.4,1825.1 1571.2,1823.2 1573.9,1821.2 1576.7,1819.2 1579.4,1817.0 1582.0,1814.8 1584.6,1812.4 1587.0,1809.9 1589.5,1807.1 1591.8,1804.1 1594.1,1800.9 1596.3,1797.6 1598.4,1794.3 1600.5,1790.9 1602.4,1787.5 1604.2,1784.2 1605.8,1781.1 1607.4,1777.9 1608.9,1774.7 1610.2,1771.5 1611.5,1768.3 1612.7,1765.1 1613.9,1761.8 1614.9,1758.5 1615.8,1755.1 1616.7,1751.7 1617.4,1748.3 1618.0,1744.8 1618.6,1741.3 1619.2,1737.8 1619.7,1734.2 1620.2,1730.6 1620.7,1726.7 1621.2,1722.7 1621.6,1718.7 1622.0,1714.6 1622.3,1710.6 1622.7,1706.5 1623.0,1702.5 1623.4,1698.5 1623.8,1694.7 1624.1,1690.8 1624.3,1686.9 1624.6,1683.1 1625.0,1679.3 1625.4,1675.6 1625.9,1672.0 1626.6,1668.5 1627.3,1665.6 1628.0,1662.8 1628.9,1660.1 1629.7,1657.4 1630.7,1654.8 1631.8,1652.2 1632.9,1649.6 1634.1,1647.1 1635.5,1644.5 1637.0,1642.0 1638.6,1639.4 1640.2,1636.9 1641.9,1634.5 1643.7,1632.2 1645.4,1629.9 1647.0,1627.8 1648.3,1626.1 1649.5,1624.6 1650.7,1623.1 1651.9,1621.6 1653.2,1620.2 1654.5,1618.8 1655.9,1617.5 1657.5,1616.2 1659.5,1614.7 1661.6,1613.3 1663.8,1611.9 1666.1,1610.5 1668.5,1609.2 1671.0,1608.0 1673.6,1606.9 1676.2,1605.9 1679.4,1604.8 1682.9,1603.9 1686.5,1603.0 1690.2,1602.3 1693.9,1601.6 1697.5,1601.1 1701.0,1600.7 1704.3,1600.3 1706.8,1600.1 1709.2,1599.9 1711.5,1599.9 1713.7,1599.8 1715.9,1599.9 1718.2,1600.0 1720.6,1600.1 1723.1,1600.3 1726.4,1600.6 1729.9,1601.0 1733.5,1601.5 1737.2,1602.0 1740.9,1602.7 1744.5,1603.4 1748.0,1604.2 1751.2,1605.0 1753.8,1605.7 1756.2,1606.5 1758.6,1607.3 1760.9,1608.1 1763.2,1609.0 1765.5,1610.1 1767.7,1611.2 1769.9,1612.5 1772.4,1614.2 1774.9,1616.0 1777.4,1618.1 1779.9,1620.2 1782.2,1622.5 1784.5,1624.7 1786.7,1627.0 1788.7,1629.3 1790.4,1631.3 1792.0,1633.4 1793.5,1635.4 1794.9,1637.5 1796.2,1639.6 1797.5,1641.8 1798.7,1644.0 1799.9,1646.2 1801.0,1648.4 1802.1,1650.7 1803.1,1652.9 1804.0,1655.2 1804.9,1657.6 1805.8,1660.0 1806.6,1662.5 1807.4,1665.0 1808.3,1668.0 1809.1,1671.2 1809.8,1674.4 1810.5,1677.7 1811.2,1681.1 1811.8,1684.5 1812.4,1687.8 1813.0,1691.2 1813.6,1694.7 1814.1,1698.2 1814.6,1701.8 1815.1,1705.4 1815.5,1709.0 1816.0,1712.5 1816.4,1716.0 1816.8,1719.3 1817.1,1722.0 1817.5,1724.7 1817.8,1727.3 1818.1,1729.8 1818.3,1732.4 1818.6,1734.9 1819.0,1737.4 1819.3,1740.0 1819.7,1742.6 1820.0,1745.3 1820.4,1747.9 1820.8,1750.5 1821.2,1753.2 1821.6,1755.9 1822.0,1758.6 1822.5,1761.4 1823.1,1764.6 1823.6,1767.9 1824.2,1771.3 1824.8,1774.6 1825.5,1778.1 1826.2,1781.5 1827.0,1784.8 1827.8,1788.2 1828.7,1791.6 1829.7,1794.9 1830.7,1798.3 1831.7,1801.7 1832.8,1805.0 1834.0,1808.4 1835.2,1811.7 1836.4,1815.0 1837.7,1818.4 1839.0,1821.8 1840.4,1825.2 1841.8,1828.7 1843.3,1832.0 1844.8,1835.3 1846.5,1838.6 1848.2,1841.7 1850.0,1844.6 1851.8,1847.4 1853.7,1850.1 1855.7,1852.8 1857.7,1855.5 1859.9,1858.1 1862.1,1860.6 1864.3,1863.2 1866.7,1865.9 1869.3,1868.6 1871.9,1871.2 1874.6,1873.8 1877.3,1876.4 1880.1,1878.9 1882.9,1881.2 1885.7,1883.5 1888.3,1885.5 1890.9,1887.4 1893.6,1889.2 1896.3,1891.0 1898.9,1892.7 1901.7,1894.3 1904.4,1895.9 1907.1,1897.4 1909.7,1898.8 1912.4,1900.2 1915.0,1901.5 1917.7,1902.7 1920.4,1903.9 1923.1,1905.1 1925.8,1906.1 1928.5,1907.1 1931.1,1908.0 1933.7,1908.7 1936.3,1909.4 1938.9,1910.1 1941.5,1910.7 1944.2,1911.3 1947.0,1911.8 1949.9,1912.4 1953.5,1913.1 1957.2,1913.8 1961.1,1914.5 1965.1,1915.1 1969.0,1915.7 1973.0,1916.2 1976.8,1916.5 1980.5,1916.7 1983.6,1916.7 1986.7,1916.6 1989.8,1916.4 1992.8,1916.2 1995.7,1915.8 1998.7,1915.4 2001.6,1914.9 2004.6,1914.3 2007.6,1913.7 2010.7,1912.9 2013.7,1912.1 2016.7,1911.3 2019.7,1910.3 2022.7,1909.3 2025.7,1908.2 2028.7,1907.1 2031.8,1905.8 2034.8,1904.5 2037.8,1903.1 2040.9,1901.6 2043.9,1900.1 2046.9,1898.5 2049.8,1896.8 2052.8,1895.1 2055.9,1893.2 2058.9,1891.3 2062.0,1889.3 2065.0,1887.2 2068.0,1885.0 2071.0,1882.8 2073.9,1880.5 2076.9,1878.2 2080.0,1875.7 2083.1,1873.2 2086.1,1870.6 2089.1,1867.9 2092.1,1865.2 2095.1,1862.4 2098.1,1859.5 2101.0,1856.5 2104.1,1853.2 2107.2,1849.8 2110.3,1846.3 2113.3,1842.7 2116.3,1839.0 2119.2,1835.3 2122.2,1831.5 2125.1,1827.6 2128.2,1823.4 2131.4,1819.0 2134.5,1814.6 2137.6,1810.1 2140.6,1805.5 2143.6,1800.8 2146.4,1796.1 2149.2,1791.4 2151.9,1786.5 2154.5,1781.4 2157.0,1776.3 2159.4,1771.2 2161.7,1766.0 2164.0,1760.8 2166.2,1755.6 2168.4,1750.5 2170.4,1745.6 2172.3,1740.8 2174.2,1735.9 2176.0,1731.0 2177.8,1726.2 2179.5,1721.4 2181.2,1716.6 2182.9,1711.9 2184.5,1707.5 2186.0,1703.2 2187.6,1698.8 2189.1,1694.5 2190.6,1690.3 2192.1,1686.1 2193.5,1682.1 2194.9,1678.2 2196.0,1675.1 2197.1,1672.2 2198.2,1669.3 2199.2,1666.5 2200.3,1663.7 2201.3,1660.9 2202.3,1658.1 2203.4,1655.3" fill="none" stroke="#111" stroke-width="5.5" stroke-linejoin="round"/>
<circle cx="1423.6" cy="1761.7" r="11.2" fill="#e3242b"/>
<circle cx="1453.2" cy="1807.3" r="11.2" fill="#e3242b"/>
<circle cx="1499.2" cy="1796.0" r="11.2" fill="#e3242b"/>
<circle cx="1485.9" cy="1826.0" r="11.2" fill="#e3242b"/>
<circle cx="1515.9" cy="1827.0" r="11.2" fill="#e3242b"/>
<circle cx="1539.5" cy="1803.5" r="11.2" fill="#e3242b"/>
<circle cx="1566.7" cy="1802.4" r="11.2" fill="#e3242b"/>
<circle cx="1593.9" cy="1744.6" r="11.2" fill="#e3242b"/>
<circle cx="1617.0" cy="1636.4" r="11.2" fill="url(#mixR)"/>
<circle cx="1653.7" cy="1595.6" r="11.2" fill="url(#mixRB2)"/>
<circle cx="1737.7" cy="1576.9" r="11.2" fill="url(#mixRB)"/>
<circle cx="1836.5" cy="1665.9" r="11.2" fill="url(#mixB)"/>
<circle cx="1863.6" cy="1808.3" r="11.4" fill="#3b3fb6"/>
<circle cx="1886.0" cy="1846.1" r="11.4" fill="#3b3fb6"/>
<circle cx="1948.0" cy="1852.2" r="11.4" fill="#3b3fb6"/>
<circle cx="1922.2" cy="1879.4" r="11.4" fill="#3b3fb6"/>
<circle cx="1958.8" cy="1892.2" r="11.4" fill="#3b3fb6"/>
<circle cx="1993.7" cy="1896.3" r="11.4" fill="#3b3fb6"/>
<circle cx="2004.1" cy="1857.0" r="11.4" fill="#3b3fb6"/>
<circle cx="2025.8" cy="1883.5" r="11.4" fill="#3b3fb6"/>
<circle cx="2071.6" cy="1856.5" r="11.4" fill="#3b3fb6"/>
<circle cx="2105.8" cy="1797.5" r="11.4" fill="#3b3fb6"/>
<text x="1202.8" y="2060.4" font-size="94.3" font-weight="bold" font-style="normal" textLength="61.3" lengthAdjust="spacingAndGlyphs" fill="#000">d</text>
<text x="1381.1" y="2051.1" font-size="52.4" font-weight="bold" font-style="normal" textLength="694.4" lengthAdjust="spacingAndGlyphs" fill="#000">Typical driver gene expression</text>
<text x="1253.9" y="2128.5" font-size="44.3" font-weight="bold" font-style="normal" textLength="247.9" lengthAdjust="spacingAndGlyphs" fill="#000" stroke="#fff" stroke-width="0.7">Driver gene</text>
<text x="1806.9" y="2172.8" font-size="42.8" font-weight="bold" font-style="normal" textLength="290.1" lengthAdjust="spacingAndGlyphs" fill="#000">Stable state 2</text>
<line x1="1231.0" y1="2128.0" x2="1231.0" y2="2398.5" stroke="#222" stroke-width="3.8"/>
<path d="M1218.0,2135.5 L1231.0,2114.8 L1244.0,2135.5 L1231.0,2132.4 z" fill="#222"/>
<line x1="1228.7" y1="2396.5" x2="2222.0" y2="2396.5" stroke="#222" stroke-width="3.8"/>
<path d="M2215.5,2388.0 L2235.5,2396.5 L2215.5,2405.0 L2218.5,2396.5 z" fill="#222"/>
<text x="1285.6" y="2387.7" font-size="40.1" font-weight="bold" font-style="normal" textLength="267.0" lengthAdjust="spacingAndGlyphs" fill="#000" stroke="#fff" stroke-width="0.7">Stable cells 1</text>
<text x="1613.2" y="2387.7" font-size="40.1" font-weight="bold" font-style="normal" textLength="305.7" lengthAdjust="spacingAndGlyphs" fill="#000" stroke="#fff" stroke-width="0.7">Transition cells</text>
<text x="2122.6" y="2387.7" font-size="40.1" font-weight="bold" font-style="normal" textLength="98.5" lengthAdjust="spacingAndGlyphs" fill="#000" stroke="#fff" stroke-width="0.7">Time</text>
<rect x="1588.9" y="2205.7" width="151.8" height="130.9" fill="none" stroke="#333" stroke-width="2" stroke-dasharray="4.8,3.2"/>
<polyline points="1231.4,2325.6 1234.7,2325.8 1238.2,2325.8 1241.4,2326.1 1244.2,2326.9 1246.0,2328.2 1247.4,2330.0 1248.7,2331.8 1250.5,2333.2 1253.3,2334.5 1256.5,2335.4 1259.9,2335.9 1263.2,2335.8 1266.8,2334.3 1270.3,2331.6 1273.8,2329.0 1277.2,2327.6 1279.9,2327.6 1282.5,2328.2 1285.1,2329.2 1287.4,2330.7 1289.8,2333.5 1291.7,2337.2 1293.8,2340.8 1296.3,2343.4 1299.3,2344.5 1302.7,2345.0 1306.0,2345.0 1309.0,2344.7 1310.8,2344.4 1312.5,2344.0 1314.0,2343.2 1315.4,2342.1 1317.0,2338.6 1317.9,2333.7 1318.9,2328.8 1320.5,2325.6 1321.9,2324.7 1323.4,2324.2 1325.1,2324.1 1326.8,2324.3 1329.7,2325.7 1332.8,2328.2 1336.1,2330.9 1339.5,2333.2 1343.2,2335.0 1347.2,2336.6 1351.1,2337.8 1354.8,2338.3 1357.5,2338.1 1360.0,2337.6 1362.5,2336.7 1365.0,2335.8 1367.5,2334.5 1370.0,2333.0 1372.5,2331.6 1375.2,2330.7 1378.2,2330.6 1381.4,2331.1 1384.6,2331.9 1387.9,2332.7 1391.6,2333.6 1395.3,2334.6 1399.1,2335.7 1403.1,2336.5 1407.9,2337.2 1413.0,2337.7 1418.2,2338.1 1423.5,2338.3 1429.8,2338.2 1436.4,2337.9 1442.9,2337.5 1448.9,2337.1 1453.0,2337.0 1456.8,2337.0 1460.5,2336.8 1464.2,2336.3 1468.0,2335.0 1471.8,2333.3 1475.6,2331.6 1479.4,2330.7 1483.2,2330.7 1487.1,2331.2 1490.9,2332.1 1494.7,2333.2 1498.6,2334.6 1502.6,2336.4 1506.4,2338.2 1510.0,2339.6 1512.6,2340.5 1515.1,2341.3 1517.5,2341.8 1520.1,2342.1 1523.1,2341.8 1526.3,2341.0 1529.5,2340.1 1532.8,2339.6 1536.5,2339.6 1540.3,2339.9 1544.2,2340.3 1548.1,2340.9 1552.6,2341.8 1557.2,2342.9 1561.8,2344.0 1565.9,2344.7 1568.6,2345.0 1571.2,2345.1 1573.6,2345.2 1576.0,2345.0 1578.1,2344.7 1580.1,2344.2 1582.1,2343.6 1584.1,2343.0 1586.1,2342.3 1588.1,2341.5 1590.1,2340.6 1592.1,2339.8 1594.3,2339.1 1596.6,2338.4 1598.6,2337.7 1600.2,2336.6 1600.8,2335.3 1601.0,2333.8 1601.2,2332.3 1601.8,2331.0 1603.0,2329.8 1604.5,2328.8 1606.3,2327.9 1608.2,2327.0 1611.7,2325.9 1615.8,2324.9 1619.7,2323.8 1622.7,2322.2 1623.9,2320.5 1624.5,2318.6 1625.0,2316.6 1625.9,2314.9 1627.2,2313.5 1628.7,2312.4 1630.4,2311.3 1632.3,2310.1 1635.8,2308.2 1639.9,2306.2 1643.8,2304.0 1646.7,2301.3 1647.9,2298.5 1648.4,2295.4 1648.7,2292.2 1649.2,2289.2 1650.0,2286.6 1650.7,2284.1 1651.8,2281.7 1653.2,2279.6 1655.7,2277.8 1658.9,2276.4 1662.1,2275.0 1664.4,2273.2 1665.4,2271.4 1665.8,2269.3 1666.2,2267.2 1666.8,2265.1 1667.9,2262.7 1669.1,2260.1 1670.6,2257.7 1672.4,2255.5 1674.9,2253.4 1677.7,2251.5 1680.8,2249.8 1683.7,2248.3 1686.4,2247.3 1689.1,2246.5 1691.6,2245.7 1693.3,2244.3 1693.8,2242.1 1693.4,2239.4 1693.0,2236.7 1693.3,2234.6 1694.2,2233.5 1695.3,2232.7 1696.7,2232.0 1698.2,2231.4 1700.5,2230.8 1703.3,2230.5 1705.9,2230.0 1707.8,2229.0 1708.6,2227.5 1708.8,2225.5 1708.9,2223.5 1709.4,2221.8 1710.0,2220.8 1710.8,2220.0 1711.6,2219.3 1712.6,2218.6 1714.3,2217.9 1716.4,2217.3 1718.5,2216.8 1720.6,2216.1 1722.7,2215.1 1724.7,2213.8 1726.7,2212.6 1728.7,2211.3 1730.6,2210.1 1732.5,2208.8 1734.5,2207.6 1736.7,2206.5 1740.2,2205.1 1744.2,2203.8 1748.4,2202.8 1752.4,2202.2 1756.2,2202.1 1760.0,2202.3 1763.7,2202.7 1767.2,2203.4 1769.9,2204.3 1772.4,2205.5 1774.8,2206.6 1777.1,2207.1 1779.0,2206.8 1780.7,2206.1 1782.5,2205.3 1784.6,2204.7 1788.7,2204.5 1793.7,2204.6 1798.4,2204.5 1801.9,2203.4 1803.2,2201.5 1803.9,2199.1 1804.5,2196.6 1805.6,2194.8 1807.4,2193.8 1809.7,2193.1 1812.1,2192.8 1814.3,2192.8 1816.2,2193.0 1817.9,2193.5 1819.7,2194.1 1821.7,2194.8 1824.6,2195.9 1827.6,2197.4 1830.8,2198.7 1834.1,2199.7 1837.7,2200.0 1841.5,2199.9 1845.3,2199.8 1849.0,2200.2 1852.7,2201.7 1856.4,2204.0 1860.1,2206.0 1863.8,2207.1 1867.6,2206.7 1871.4,2205.3 1875.2,2203.7 1878.7,2202.7 1881.3,2202.4 1883.9,2202.2 1886.3,2202.3 1888.6,2202.7 1890.5,2203.6 1892.2,2204.9 1893.9,2206.3 1896.0,2207.1 1899.8,2207.3 1904.3,2206.6 1909.0,2205.7 1913.4,2204.7 1917.4,2203.9 1921.5,2203.0 1925.3,2202.0 1928.2,2201.0 1929.4,2200.2 1930.3,2199.4 1931.1,2198.7 1931.9,2198.5 1932.8,2199.5 1933.5,2201.5 1934.3,2203.7 1935.6,2205.2 1938.5,2205.8 1942.4,2205.6 1946.5,2204.9 1950.5,2204.2 1954.3,2203.3 1958.1,2202.1 1961.8,2201.2 1965.4,2201.0 1968.6,2202.0 1971.7,2203.7 1974.7,2205.5 1977.7,2206.7 1980.2,2207.1 1982.6,2207.2 1985.0,2207.1 1987.6,2206.7 1991.2,2205.6 1995.1,2203.9 1998.9,2202.3 2002.5,2201.7 2005.1,2202.2 2007.4,2203.4 2009.8,2204.7 2012.4,2205.9 2016.3,2207.1 2020.6,2208.3 2025.2,2209.4 2029.7,2210.1 2034.7,2210.6 2040.0,2210.9 2045.1,2210.7 2049.6,2210.1 2052.3,2209.1 2054.7,2207.8 2057.0,2206.5 2059.5,2205.2 2062.5,2204.0 2065.7,2202.8 2068.8,2201.8 2071.9,2201.0 2074.4,2200.5 2076.8,2200.1 2079.3,2199.9 2081.8,2199.7 2084.8,2199.7 2087.9,2199.8 2091.0,2200.0 2094.1,2200.2" fill="none" stroke="#111" stroke-width="3.6" stroke-linejoin="round"/>
<text x="51.2" y="2518.6" font-size="97.8" font-weight="bold" font-style="normal" textLength="55.8" lengthAdjust="spacingAndGlyphs" fill="#000">e</text>
<text x="530.8" y="2539.8" font-size="55.4" font-weight="bold" font-style="normal" textLength="184.9" lengthAdjust="spacingAndGlyphs" fill="#000">Human</text>
<line x1="181.5" y1="2582.3" x2="200.6" y2="2582.3" stroke="#2a2a2a" stroke-width="2.2"/>
<line x1="181.5" y1="2654.1" x2="200.6" y2="2654.1" stroke="#2a2a2a" stroke-width="2.2"/>
<line x1="181.5" y1="2725.9" x2="200.6" y2="2725.9" stroke="#2a2a2a" stroke-width="2.2"/>
<line x1="181.5" y1="2797.7" x2="200.6" y2="2797.7" stroke="#2a2a2a" stroke-width="2.2"/>
<line x1="181.5" y1="2869.5" x2="200.6" y2="2869.5" stroke="#2a2a2a" stroke-width="2.2"/>
<line x1="181.5" y1="2941.3" x2="200.6" y2="2941.3" stroke="#2a2a2a" stroke-width="2.2"/>
<line x1="181.5" y1="3013.1" x2="200.6" y2="3013.1" stroke="#2a2a2a" stroke-width="2.2"/>
<line x1="181.5" y1="3084.9" x2="200.6" y2="3084.9" stroke="#2a2a2a" stroke-width="2.2"/>
<line x1="228.2" y1="3101.0" x2="228.2" y2="3117.0" stroke="#2a2a2a" stroke-width="2.2"/>
<line x1="415.0" y1="3101.0" x2="415.0" y2="3117.0" stroke="#2a2a2a" stroke-width="2.2"/>
<line x1="599.9" y1="3101.0" x2="599.9" y2="3117.0" stroke="#2a2a2a" stroke-width="2.2"/>
<line x1="788.4" y1="3101.0" x2="788.4" y2="3117.0" stroke="#2a2a2a" stroke-width="2.2"/>
<line x1="976.4" y1="3101.0" x2="976.4" y2="3117.0" stroke="#2a2a2a" stroke-width="2.2"/>
<text x="131.0" y="2597.6" font-size="40.8" font-weight="bold" font-style="normal" textLength="43.1" lengthAdjust="spacingAndGlyphs" fill="#000" stroke="#fff" stroke-width="0.7">10</text>
<text x="152.1" y="2669.4" font-size="40.8" font-weight="bold" font-style="normal" textLength="21.6" lengthAdjust="spacingAndGlyphs" fill="#000" stroke="#fff" stroke-width="0.7">8</text>
<text x="152.3" y="2741.2" font-size="40.8" font-weight="bold" font-style="normal" textLength="21.6" lengthAdjust="spacingAndGlyphs" fill="#000" stroke="#fff" stroke-width="0.7">6</text>
<text x="151.1" y="2813.0" font-size="41.4" font-weight="bold" font-style="normal" textLength="21.6" lengthAdjust="spacingAndGlyphs" fill="#000" stroke="#fff" stroke-width="0.7">4</text>
<text x="152.5" y="2884.8" font-size="40.8" font-weight="bold" font-style="normal" textLength="21.6" lengthAdjust="spacingAndGlyphs" fill="#000" stroke="#fff" stroke-width="0.7">2</text>
<text x="152.5" y="2956.6" font-size="40.8" font-weight="bold" font-style="normal" textLength="21.6" lengthAdjust="spacingAndGlyphs" fill="#000" stroke="#fff" stroke-width="0.7">0</text>
<text x="139.6" y="3028.4" font-size="40.8" font-weight="bold" font-style="normal" textLength="34.5" lengthAdjust="spacingAndGlyphs" fill="#000" stroke="#fff" stroke-width="0.7">-2</text>
<text x="138.2" y="3100.2" font-size="41.4" font-weight="bold" font-style="normal" textLength="34.5" lengthAdjust="spacingAndGlyphs" fill="#000" stroke="#fff" stroke-width="0.7">-4</text>
<text x="215.6" y="3167.2" font-size="37.1" font-weight="bold" font-style="normal" textLength="23.3" lengthAdjust="spacingAndGlyphs" fill="#000" stroke="#fff" stroke-width="0.7">0</text>
<text x="389.6" y="3170.2" font-size="37.1" font-weight="bold" font-style="normal" textLength="43.9" lengthAdjust="spacingAndGlyphs" fill="#000" stroke="#fff" stroke-width="0.7">50</text>
<text x="563.0" y="3165.4" font-size="38.8" font-weight="bold" font-style="normal" textLength="67.5" lengthAdjust="spacingAndGlyphs" fill="#000" stroke="#fff" stroke-width="0.7">100</text>
<text x="749.7" y="3167.2" font-size="37.1" font-weight="bold" font-style="normal" textLength="69.3" lengthAdjust="spacingAndGlyphs" fill="#000" stroke="#fff" stroke-width="0.7">150</text>
<text x="942.4" y="3163.6" font-size="38.0" font-weight="bold" font-style="normal" textLength="69.4" lengthAdjust="spacingAndGlyphs" fill="#000" stroke="#fff" stroke-width="0.7">200</text>
<text x="476.8" y="3239.0" font-size="51.6" font-weight="bold" font-style="normal" textLength="286.1" lengthAdjust="spacingAndGlyphs" fill="#000">Pseudo-time</text>
<g transform="translate(109.4,2990.0) rotate(-90)"><text x="0" y="0" font-size="42.9" textLength="339.3" lengthAdjust="spacingAndGlyphs" stroke="#000" stroke-width="1.1"><tspan font-weight="normal" font-style="italic">GATA1</tspan><tspan font-weight="normal" font-style="normal"> expression</tspan></text></g>
<line x1="112.8" y1="3009.5" x2="112.8" y2="2649.0" stroke="#111" stroke-width="2.6"/>
<circle cx="234.2" cy="2980.7" r="6.5" fill="#000"/>
<circle cx="243.2" cy="2976.2" r="6.5" fill="#000"/>
<circle cx="253.7" cy="2988.3" r="6.5" fill="#000"/>
<circle cx="265.8" cy="2983.7" r="6.5" fill="#000"/>
<circle cx="229.6" cy="3042.5" r="6.5" fill="#000"/>
<circle cx="235.7" cy="3044.0" r="6.5" fill="#000"/>
<circle cx="246.2" cy="3053.0" r="6.5" fill="#000"/>
<circle cx="249.2" cy="3038.0" r="6.5" fill="#000"/>
<circle cx="258.3" cy="3036.4" r="6.5" fill="#000"/>
<circle cx="267.3" cy="3047.0" r="6.5" fill="#000"/>
<circle cx="268.8" cy="3039.5" r="6.5" fill="#000"/>
<circle cx="276.3" cy="3031.9" r="6.5" fill="#000"/>
<circle cx="280.8" cy="3027.4" r="6.5" fill="#000"/>
<circle cx="285.4" cy="3034.9" r="6.5" fill="#000"/>
<circle cx="294.4" cy="3025.9" r="6.5" fill="#000"/>
<circle cx="298.9" cy="3031.9" r="6.5" fill="#000"/>
<circle cx="303.4" cy="3028.9" r="6.5" fill="#000"/>
<circle cx="309.5" cy="3031.9" r="6.5" fill="#000"/>
<circle cx="315.5" cy="3034.9" r="6.5" fill="#000"/>
<circle cx="321.5" cy="3038.0" r="6.5" fill="#000"/>
<circle cx="324.5" cy="3031.9" r="6.5" fill="#000"/>
<circle cx="327.5" cy="3062.0" r="6.5" fill="#000"/>
<circle cx="332.0" cy="3059.0" r="6.5" fill="#000"/>
<circle cx="336.6" cy="3065.1" r="6.5" fill="#000"/>
<circle cx="342.6" cy="3062.0" r="6.5" fill="#000"/>
<circle cx="348.6" cy="3050.0" r="6.5" fill="#000"/>
<circle cx="351.6" cy="3068.1" r="6.5" fill="#000"/>
<circle cx="357.7" cy="3059.0" r="6.5" fill="#000"/>
<circle cx="363.7" cy="3062.0" r="6.5" fill="#000"/>
<circle cx="366.7" cy="3071.1" r="6.5" fill="#000"/>
<circle cx="369.7" cy="3062.0" r="6.5" fill="#000"/>
<circle cx="374.2" cy="3041.0" r="6.5" fill="#000"/>
<circle cx="378.7" cy="3038.0" r="6.5" fill="#000"/>
<circle cx="384.8" cy="3038.0" r="6.5" fill="#000"/>
<circle cx="390.8" cy="3028.9" r="6.5" fill="#000"/>
<circle cx="395.3" cy="3059.0" r="6.5" fill="#000"/>
<circle cx="396.8" cy="3038.0" r="6.5" fill="#000"/>
<circle cx="402.8" cy="3034.9" r="6.5" fill="#000"/>
<circle cx="408.9" cy="3044.0" r="6.5" fill="#000"/>
<circle cx="411.9" cy="3038.0" r="6.5" fill="#000"/>
<circle cx="417.9" cy="3034.9" r="6.5" fill="#000"/>
<circle cx="350.1" cy="3080.1" r="6.5" fill="#000"/>
<circle cx="383.3" cy="2971.7" r="6.5" fill="#000"/>
<circle cx="240.2" cy="3044.0" r="6.5" fill="#000"/>
<circle cx="255.2" cy="3041.0" r="6.5" fill="#000"/>
<circle cx="273.3" cy="3044.0" r="6.5" fill="#000"/>
<circle cx="291.4" cy="3038.0" r="6.5" fill="#000"/>
<circle cx="300.4" cy="3039.5" r="6.5" fill="#000"/>
<circle cx="314.0" cy="3041.0" r="6.5" fill="#000"/>
<circle cx="329.0" cy="3068.1" r="6.5" fill="#000"/>
<circle cx="339.6" cy="3059.0" r="6.5" fill="#000"/>
<circle cx="347.1" cy="3065.1" r="6.5" fill="#000"/>
<circle cx="359.2" cy="3068.1" r="6.5" fill="#000"/>
<circle cx="365.2" cy="3056.0" r="6.5" fill="#000"/>
<circle cx="405.8" cy="3041.0" r="6.5" fill="#000"/>
<circle cx="414.9" cy="3044.0" r="6.5" fill="#000"/>
<circle cx="425.4" cy="2958.7" r="6.5" fill="#000"/>
<circle cx="429.9" cy="2972.6" r="6.5" fill="#000"/>
<circle cx="436.0" cy="2897.3" r="6.5" fill="#000"/>
<circle cx="433.0" cy="2916.0" r="6.5" fill="#000"/>
<circle cx="444.4" cy="2937.0" r="6.5" fill="#000"/>
<circle cx="441.4" cy="2841.3" r="6.5" fill="#000"/>
<circle cx="451.6" cy="2809.6" r="6.5" fill="#000"/>
<circle cx="448.0" cy="2974.1" r="6.5" fill="#000"/>
<circle cx="452.5" cy="2988.3" r="6.5" fill="#000"/>
<circle cx="458.6" cy="3037.0" r="6.5" fill="#000"/>
<circle cx="463.1" cy="2884.9" r="6.5" fill="#000"/>
<circle cx="467.6" cy="3009.3" r="6.5" fill="#000"/>
<circle cx="473.6" cy="2809.6" r="6.5" fill="#000"/>
<circle cx="478.1" cy="2846.7" r="6.5" fill="#000"/>
<circle cx="481.1" cy="2925.9" r="6.5" fill="#000"/>
<circle cx="485.7" cy="2817.5" r="6.5" fill="#000"/>
<circle cx="493.2" cy="2980.7" r="6.5" fill="#000"/>
<circle cx="496.2" cy="2934.0" r="6.5" fill="#000"/>
<circle cx="500.7" cy="2900.3" r="6.5" fill="#000"/>
<circle cx="508.3" cy="2914.5" r="6.5" fill="#000"/>
<circle cx="511.3" cy="2783.4" r="6.5" fill="#000"/>
<circle cx="515.8" cy="2806.0" r="6.5" fill="#000"/>
<circle cx="523.3" cy="2855.7" r="6.5" fill="#000"/>
<circle cx="518.8" cy="2869.3" r="6.5" fill="#000"/>
<circle cx="526.3" cy="2873.8" r="6.5" fill="#000"/>
<circle cx="529.3" cy="2751.8" r="6.5" fill="#000"/>
<circle cx="533.9" cy="2894.9" r="6.5" fill="#000"/>
<circle cx="538.4" cy="2735.2" r="6.5" fill="#000"/>
<circle cx="541.4" cy="2762.3" r="6.5" fill="#000"/>
<circle cx="545.9" cy="2771.4" r="6.5" fill="#000"/>
<circle cx="549.8" cy="2798.5" r="6.5" fill="#000"/>
<circle cx="552.8" cy="2866.9" r="6.5" fill="#000"/>
<circle cx="556.4" cy="2884.9" r="6.5" fill="#000"/>
<circle cx="559.5" cy="2839.2" r="6.5" fill="#000"/>
<circle cx="563.1" cy="2773.5" r="6.5" fill="#000"/>
<circle cx="568.5" cy="2839.2" r="6.5" fill="#000"/>
<circle cx="574.5" cy="2833.1" r="6.5" fill="#000"/>
<circle cx="579.0" cy="2866.3" r="6.5" fill="#000"/>
<circle cx="583.6" cy="2717.2" r="6.5" fill="#000"/>
<circle cx="586.6" cy="2827.1" r="6.5" fill="#000"/>
<circle cx="591.1" cy="2926.5" r="6.5" fill="#000"/>
<circle cx="571.5" cy="2929.5" r="6.5" fill="#000"/>
<circle cx="594.1" cy="2844.6" r="6.5" fill="#000"/>
<circle cx="597.1" cy="2873.8" r="6.5" fill="#000"/>
<circle cx="600.1" cy="2881.3" r="6.5" fill="#000"/>
<circle cx="604.6" cy="2803.6" r="6.5" fill="#000"/>
<circle cx="609.2" cy="2841.6" r="6.5" fill="#000"/>
<circle cx="612.2" cy="2905.4" r="6.5" fill="#000"/>
<circle cx="616.7" cy="2903.9" r="6.5" fill="#000"/>
<circle cx="758.0" cy="2579.2" r="6.5" fill="#000"/>
<circle cx="975.4" cy="2628.9" r="6.5" fill="#000"/>
<circle cx="654.0" cy="2676.5" r="6.5" fill="#000"/>
<circle cx="971.5" cy="2680.1" r="6.5" fill="#000"/>
<circle cx="638.7" cy="2709.0" r="6.5" fill="#000"/>
<circle cx="657.7" cy="2705.1" r="6.5" fill="#000"/>
<circle cx="695.3" cy="2700.0" r="6.5" fill="#000"/>
<circle cx="867.0" cy="2694.6" r="6.5" fill="#000"/>
<circle cx="871.5" cy="2702.1" r="6.5" fill="#000"/>
<circle cx="986.0" cy="2697.6" r="6.5" fill="#000"/>
<circle cx="643.5" cy="2735.8" r="6.5" fill="#000"/>
<circle cx="683.3" cy="2726.2" r="6.5" fill="#000"/>
<circle cx="725.4" cy="2719.6" r="6.5" fill="#000"/>
<circle cx="743.5" cy="2719.6" r="6.5" fill="#000"/>
<circle cx="766.1" cy="2718.7" r="6.5" fill="#000"/>
<circle cx="773.6" cy="2715.7" r="6.5" fill="#000"/>
<circle cx="781.1" cy="2715.7" r="6.5" fill="#000"/>
<circle cx="740.5" cy="2734.3" r="6.5" fill="#000"/>
<circle cx="728.4" cy="2741.3" r="6.5" fill="#000"/>
<circle cx="748.0" cy="2754.8" r="6.5" fill="#000"/>
<circle cx="800.7" cy="2747.9" r="6.5" fill="#000"/>
<circle cx="810.7" cy="2758.7" r="6.5" fill="#000"/>
<circle cx="859.5" cy="2754.2" r="6.5" fill="#000"/>
<circle cx="955.8" cy="2713.6" r="6.5" fill="#000"/>
<circle cx="1008.6" cy="2730.7" r="6.5" fill="#000"/>
<circle cx="934.8" cy="2751.2" r="6.5" fill="#000"/>
<circle cx="939.3" cy="2753.3" r="6.5" fill="#000"/>
<circle cx="952.8" cy="2747.9" r="6.5" fill="#000"/>
<circle cx="964.9" cy="2741.9" r="6.5" fill="#000"/>
<circle cx="983.0" cy="2755.7" r="6.5" fill="#000"/>
<circle cx="676.6" cy="2770.8" r="6.5" fill="#000"/>
<circle cx="751.0" cy="2780.4" r="6.5" fill="#000"/>
<circle cx="845.9" cy="2778.9" r="6.5" fill="#000"/>
<circle cx="851.9" cy="2774.4" r="6.5" fill="#000"/>
<circle cx="879.0" cy="2769.9" r="6.5" fill="#000"/>
<circle cx="875.4" cy="2778.9" r="6.5" fill="#000"/>
<circle cx="916.7" cy="2778.3" r="6.5" fill="#000"/>
<circle cx="993.5" cy="2781.0" r="6.5" fill="#000"/>
<circle cx="1024.5" cy="2769.9" r="6.5" fill="#000"/>
<circle cx="622.4" cy="2785.8" r="6.5" fill="#000"/>
<circle cx="785.1" cy="2797.6" r="6.5" fill="#000"/>
<circle cx="856.4" cy="2797.0" r="6.5" fill="#000"/>
<circle cx="864.0" cy="2800.0" r="6.5" fill="#000"/>
<circle cx="923.6" cy="2797.6" r="6.5" fill="#000"/>
<circle cx="665.2" cy="2803.0" r="6.5" fill="#000"/>
<circle cx="702.8" cy="2806.6" r="6.5" fill="#000"/>
<circle cx="1005.5" cy="2809.6" r="6.5" fill="#000"/>
<circle cx="661.6" cy="2816.6" r="6.5" fill="#000"/>
<circle cx="686.9" cy="2822.0" r="6.5" fill="#000"/>
<circle cx="804.6" cy="2820.2" r="6.5" fill="#000"/>
<circle cx="848.9" cy="2821.1" r="6.5" fill="#000"/>
<circle cx="949.8" cy="2814.5" r="6.5" fill="#000"/>
<circle cx="907.7" cy="2834.6" r="6.5" fill="#000"/>
<circle cx="904.6" cy="2843.7" r="6.5" fill="#000"/>
<circle cx="919.7" cy="2846.7" r="6.5" fill="#000"/>
<circle cx="1028.1" cy="2836.1" r="6.5" fill="#000"/>
<circle cx="1022.1" cy="2843.7" r="6.5" fill="#000"/>
<circle cx="1017.0" cy="2853.6" r="6.5" fill="#000"/>
<circle cx="736.0" cy="2848.2" r="6.5" fill="#000"/>
<circle cx="829.3" cy="2857.2" r="6.5" fill="#000"/>
<circle cx="884.5" cy="2853.6" r="6.5" fill="#000"/>
<circle cx="896.5" cy="2861.7" r="6.5" fill="#000"/>
<circle cx="889.6" cy="2871.7" r="6.5" fill="#000"/>
<circle cx="624.5" cy="2878.3" r="6.5" fill="#000"/>
<circle cx="776.6" cy="2864.8" r="6.5" fill="#000"/>
<circle cx="788.1" cy="2874.7" r="6.5" fill="#000"/>
<circle cx="796.2" cy="2866.3" r="6.5" fill="#000"/>
<circle cx="761.6" cy="2881.3" r="6.5" fill="#000"/>
<circle cx="668.2" cy="2891.9" r="6.5" fill="#000"/>
<circle cx="680.2" cy="2899.4" r="6.5" fill="#000"/>
<circle cx="650.1" cy="2902.4" r="6.5" fill="#000"/>
<circle cx="646.5" cy="2906.3" r="6.5" fill="#000"/>
<circle cx="708.9" cy="2905.4" r="6.5" fill="#000"/>
<circle cx="719.4" cy="2900.9" r="6.5" fill="#000"/>
<circle cx="723.9" cy="2900.9" r="6.5" fill="#000"/>
<circle cx="733.0" cy="2899.4" r="6.5" fill="#000"/>
<circle cx="818.8" cy="2898.5" r="6.5" fill="#000"/>
<circle cx="959.8" cy="2896.4" r="6.5" fill="#000"/>
<circle cx="998.0" cy="2903.9" r="6.5" fill="#000"/>
<circle cx="627.5" cy="2924.4" r="6.5" fill="#000"/>
<circle cx="671.8" cy="2928.6" r="6.5" fill="#000"/>
<circle cx="704.3" cy="2922.0" r="6.5" fill="#000"/>
<circle cx="717.9" cy="2923.5" r="6.5" fill="#000"/>
<circle cx="754.6" cy="2925.9" r="6.5" fill="#000"/>
<circle cx="813.7" cy="2918.1" r="6.5" fill="#000"/>
<circle cx="841.4" cy="2932.5" r="6.5" fill="#000"/>
<circle cx="900.1" cy="2926.5" r="6.5" fill="#000"/>
<circle cx="910.7" cy="2926.5" r="6.5" fill="#000"/>
<circle cx="930.2" cy="2916.9" r="6.5" fill="#000"/>
<circle cx="945.3" cy="2927.4" r="6.5" fill="#000"/>
<circle cx="978.4" cy="2923.5" r="6.5" fill="#000"/>
<circle cx="989.0" cy="2917.5" r="6.5" fill="#000"/>
<circle cx="631.4" cy="2952.1" r="6.5" fill="#000"/>
<circle cx="635.7" cy="2956.0" r="6.5" fill="#000"/>
<circle cx="698.3" cy="2950.6" r="6.5" fill="#000"/>
<circle cx="713.4" cy="2957.2" r="6.5" fill="#000"/>
<circle cx="825.7" cy="2942.5" r="6.5" fill="#000"/>
<circle cx="833.3" cy="2961.1" r="6.5" fill="#000"/>
<circle cx="822.4" cy="2970.8" r="6.5" fill="#000"/>
<circle cx="836.3" cy="2981.6" r="6.5" fill="#000"/>
<circle cx="882.0" cy="2969.3" r="6.5" fill="#000"/>
<circle cx="926.6" cy="2949.7" r="6.5" fill="#000"/>
<circle cx="967.9" cy="2944.0" r="6.5" fill="#000"/>
<circle cx="1001.0" cy="2944.6" r="6.5" fill="#000"/>
<circle cx="1011.6" cy="2966.6" r="6.5" fill="#000"/>
<circle cx="942.3" cy="2977.7" r="6.5" fill="#000"/>
<circle cx="690.8" cy="2989.2" r="6.5" fill="#000"/>
<circle cx="773.6" cy="2982.8" r="6.5" fill="#000"/>
<circle cx="792.3" cy="3013.3" r="6.5" fill="#000"/>
<rect x="398.3" y="2670.5" width="137.1" height="421.7" fill="none" stroke="#222" stroke-width="3"/>
<polyline points="197.0,3049.3 210.0,3049.3 223.1,3049.4 236.2,3049.4 249.3,3049.4 262.3,3049.5 275.2,3049.5 287.7,3049.5 300.0,3049.6 310.9,3049.7 322.1,3049.8 333.4,3049.9 344.4,3050.0 354.9,3050.1 364.5,3050.1 373.0,3050.2 380.0,3050.1 382.6,3050.1 384.9,3050.1 386.9,3050.1 388.8,3050.1 390.6,3050.0 392.4,3049.9 394.2,3049.8 396.1,3049.5 398.1,3049.2 400.1,3048.8 402.2,3048.3 404.2,3047.8 406.2,3047.2 408.2,3046.6 410.1,3045.9 412.1,3045.2 414.2,3044.4 416.2,3043.4 418.3,3042.5 420.3,3041.4 422.4,3040.3 424.3,3039.2 426.3,3037.9 428.2,3036.7 430.1,3035.4 431.9,3034.0 433.8,3032.6 435.6,3031.1 437.3,3029.6 439.0,3028.0 440.6,3026.5 442.1,3024.9 443.4,3023.5 444.6,3022.1 445.7,3020.7 446.8,3019.2 447.9,3017.8 448.9,3016.3 449.8,3014.7 450.7,3013.1 451.6,3011.4 452.3,3009.6 453.1,3007.8 453.7,3006.0 454.3,3004.1 454.9,3002.1 455.5,3000.1 456.0,2998.1 456.6,2995.6 457.1,2993.1 457.5,2990.5 457.9,2987.8 458.3,2985.1 458.6,2982.3 459.0,2979.5 459.3,2976.7 459.6,2973.5 459.9,2970.2 460.2,2966.9 460.5,2963.5 460.7,2960.1 460.9,2956.7 461.1,2953.3 461.4,2949.9 461.7,2946.5 461.9,2943.1 462.2,2939.6 462.4,2936.1 462.7,2932.7 462.9,2929.4 463.2,2926.2 463.5,2923.2 463.7,2921.0 463.9,2918.9 464.2,2916.8 464.4,2914.9 464.6,2912.9 464.9,2911.0 465.3,2909.1 465.7,2907.1 466.2,2905.1 466.8,2903.1 467.4,2901.1 468.1,2899.2 468.8,2897.2 469.5,2895.2 470.3,2893.1 471.0,2891.0 471.9,2888.5 472.7,2885.9 473.7,2883.2 474.6,2880.5 475.5,2877.7 476.5,2875.0 477.5,2872.3 478.5,2869.6 479.5,2866.9 480.5,2864.1 481.6,2861.3 482.6,2858.6 483.7,2855.8 484.8,2853.2 485.9,2850.6 487.1,2848.2 488.1,2846.3 489.1,2844.4 490.0,2842.5 491.1,2840.8 492.1,2839.0 493.2,2837.4 494.4,2835.8 495.7,2834.3 497.1,2832.9 498.5,2831.4 500.1,2830.1 501.6,2828.8 503.3,2827.6 505.0,2826.5 506.7,2825.5 508.5,2824.6 510.4,2823.8 512.3,2823.2 514.3,2822.6 516.4,2822.2 518.4,2821.8 520.5,2821.5 522.6,2821.2 524.6,2820.9 526.5,2820.6 528.2,2820.4 529.9,2820.3 531.7,2820.1 533.5,2820.0 535.4,2820.0 537.6,2819.9 540.0,2819.8 545.4,2819.7 551.4,2819.7 558.1,2819.7 565.4,2819.8 573.2,2820.0 581.6,2820.1 590.6,2820.2 600.0,2820.3 619.3,2820.4 641.5,2820.5 665.8,2820.6 691.8,2820.6 718.9,2820.7 746.3,2820.7 773.5,2820.8 800.0,2820.8 827.9,2820.8 856.3,2820.8 884.9,2820.8 913.8,2820.7 942.7,2820.7 971.8,2820.6 1000.7,2820.5 1029.5,2820.5" fill="none" stroke="#e3202c" stroke-width="6" stroke-linejoin="round"/>
<line x1="199.4" y1="2559.5" x2="1059.7" y2="2559.5" stroke="#2e2e2e" stroke-width="2.6"/>
<line x1="200.6" y1="2559.5" x2="200.6" y2="3101.0" stroke="#333" stroke-width="2.6"/>
<line x1="199.4" y1="3101.0" x2="1059.7" y2="3101.0" stroke="#555" stroke-width="2.6"/>
<line x1="1058.5" y1="2560.5" x2="1058.5" y2="3100.0" stroke="#c6c6c6" stroke-width="2.8"/>
<text x="1626.4" y="2539.8" font-size="55.4" font-weight="bold" font-style="normal" textLength="173.2" lengthAdjust="spacingAndGlyphs" fill="#000">Mouse</text>
<line x1="1262.4" y1="2641.4" x2="1279.3" y2="2641.4" stroke="#2a2a2a" stroke-width="2.2"/>
<line x1="1262.4" y1="2784.2" x2="1279.3" y2="2784.2" stroke="#2a2a2a" stroke-width="2.2"/>
<line x1="1262.4" y1="2926.9" x2="1279.3" y2="2926.9" stroke="#2a2a2a" stroke-width="2.2"/>
<line x1="1262.4" y1="3069.7" x2="1279.3" y2="3069.7" stroke="#2a2a2a" stroke-width="2.2"/>
<line x1="1308.0" y1="3101.7" x2="1308.0" y2="3116.7" stroke="#2a2a2a" stroke-width="2.2"/>
<line x1="1446.0" y1="3101.7" x2="1446.0" y2="3116.7" stroke="#2a2a2a" stroke-width="2.2"/>
<line x1="1584.5" y1="3101.7" x2="1584.5" y2="3116.7" stroke="#2a2a2a" stroke-width="2.2"/>
<line x1="1721.8" y1="3101.7" x2="1721.8" y2="3116.7" stroke="#2a2a2a" stroke-width="2.2"/>
<line x1="1859.1" y1="3101.7" x2="1859.1" y2="3116.7" stroke="#2a2a2a" stroke-width="2.2"/>
<line x1="1997.0" y1="3101.7" x2="1997.0" y2="3116.7" stroke="#2a2a2a" stroke-width="2.2"/>
<line x1="2134.4" y1="3101.7" x2="2134.4" y2="3116.7" stroke="#2a2a2a" stroke-width="2.2"/>
<text x="1197.2" y="2660.0" font-size="41.5" font-weight="bold" font-style="normal" textLength="55.9" lengthAdjust="spacingAndGlyphs" fill="#000" stroke="#fff" stroke-width="0.7">1.0</text>
<text x="1196.0" y="2801.7" font-size="41.4" font-weight="bold" font-style="normal" textLength="56.6" lengthAdjust="spacingAndGlyphs" fill="#000" stroke="#fff" stroke-width="0.7">0.5</text>
<text x="1196.0" y="2942.4" font-size="41.4" font-weight="bold" font-style="normal" textLength="57.1" lengthAdjust="spacingAndGlyphs" fill="#000" stroke="#fff" stroke-width="0.7">0.0</text>
<text x="1183.6" y="3085.2" font-size="41.5" font-weight="bold" font-style="normal" textLength="69.9" lengthAdjust="spacingAndGlyphs" fill="#000" stroke="#fff" stroke-width="0.7">-0.5</text>
<text x="1300.4" y="3163.6" font-size="38.5" font-weight="bold" font-style="normal" textLength="21.5" lengthAdjust="spacingAndGlyphs" fill="#000" stroke="#fff" stroke-width="0.7">0</text>
<text x="1420.1" y="3163.6" font-size="38.5" font-weight="bold" font-style="normal" textLength="44.8" lengthAdjust="spacingAndGlyphs" fill="#000" stroke="#fff" stroke-width="0.7">50</text>
<text x="1556.0" y="3163.6" font-size="38.5" font-weight="bold" font-style="normal" textLength="67.7" lengthAdjust="spacingAndGlyphs" fill="#000" stroke="#fff" stroke-width="0.7">100</text>
<text x="1695.8" y="3163.6" font-size="38.5" font-weight="bold" font-style="normal" textLength="69.7" lengthAdjust="spacingAndGlyphs" fill="#000" stroke="#fff" stroke-width="0.7">150</text>
<text x="1830.0" y="3163.6" font-size="38.5" font-weight="bold" font-style="normal" textLength="65.9" lengthAdjust="spacingAndGlyphs" fill="#000" stroke="#fff" stroke-width="0.7">200</text>
<text x="1965.5" y="3163.6" font-size="38.5" font-weight="bold" font-style="normal" textLength="67.1" lengthAdjust="spacingAndGlyphs" fill="#000" stroke="#fff" stroke-width="0.7">250</text>
<text x="2101.5" y="3163.6" font-size="38.5" font-weight="bold" font-style="normal" textLength="66.6" lengthAdjust="spacingAndGlyphs" fill="#000" stroke="#fff" stroke-width="0.7">300</text>
<text x="1567.8" y="3233.4" font-size="50.2" font-weight="bold" font-style="normal" textLength="286.2" lengthAdjust="spacingAndGlyphs" fill="#000">Pseudo-time</text>
<g transform="translate(1170.7,2996.2) rotate(-90)"><text x="0" y="0" font-size="41.9" textLength="331.0" lengthAdjust="spacingAndGlyphs" stroke="#000" stroke-width="1.1"><tspan font-weight="normal" font-style="italic">Gata1</tspan><tspan font-weight="normal" font-style="normal"> expression</tspan></text></g>
<line x1="1174.8" y1="3001.4" x2="1174.8" y2="2664.1" stroke="#111" stroke-width="2.6"/>
<circle cx="1312.7" cy="3039.5" r="6.3" fill="#000"/>
<circle cx="1356.3" cy="3041.6" r="6.3" fill="#000"/>
<circle cx="1437.7" cy="3033.4" r="6.3" fill="#000"/>
<circle cx="1452.1" cy="3018.4" r="6.3" fill="#000"/>
<circle cx="1464.8" cy="3025.9" r="6.3" fill="#000"/>
<circle cx="1475.3" cy="3042.5" r="6.3" fill="#000"/>
<circle cx="1491.9" cy="3045.5" r="6.3" fill="#000"/>
<circle cx="1523.5" cy="3031.9" r="6.3" fill="#000"/>
<circle cx="1552.1" cy="3038.0" r="6.3" fill="#000"/>
<circle cx="1578.6" cy="3019.9" r="6.3" fill="#000"/>
<circle cx="1588.3" cy="3028.9" r="6.3" fill="#000"/>
<circle cx="1595.8" cy="3042.5" r="6.3" fill="#000"/>
<circle cx="1606.3" cy="3024.4" r="6.3" fill="#000"/>
<circle cx="1311.1" cy="3065.1" r="6.3" fill="#000"/>
<circle cx="1454.2" cy="3075.6" r="6.3" fill="#000"/>
<circle cx="1531.0" cy="3072.6" r="6.3" fill="#000"/>
<circle cx="1565.7" cy="3072.6" r="6.3" fill="#000"/>
<circle cx="1591.3" cy="3074.1" r="6.3" fill="#000"/>
<circle cx="1647.0" cy="3077.1" r="6.3" fill="#000"/>
<circle cx="1648.5" cy="3059.0" r="6.3" fill="#000"/>
<circle cx="1644.0" cy="3051.5" r="6.3" fill="#000"/>
<circle cx="1653.0" cy="3036.4" r="6.3" fill="#000"/>
<circle cx="1599.7" cy="2976.2" r="6.3" fill="#000"/>
<circle cx="1620.8" cy="2897.0" r="6.3" fill="#000"/>
<circle cx="1625.9" cy="2960.2" r="6.3" fill="#000"/>
<circle cx="1633.4" cy="2944.0" r="6.3" fill="#000"/>
<circle cx="1636.4" cy="3010.8" r="6.3" fill="#000"/>
<circle cx="1621.4" cy="2994.3" r="6.3" fill="#000"/>
<circle cx="1631.9" cy="2986.7" r="6.3" fill="#000"/>
<circle cx="1597.3" cy="2929.5" r="6.3" fill="#000"/>
<circle cx="1603.3" cy="2928.0" r="6.3" fill="#000"/>
<circle cx="1607.8" cy="2937.0" r="6.3" fill="#000"/>
<circle cx="1612.3" cy="2922.0" r="6.3" fill="#000"/>
<circle cx="1618.4" cy="2925.0" r="6.3" fill="#000"/>
<circle cx="1625.9" cy="2922.0" r="6.3" fill="#000"/>
<circle cx="1639.5" cy="2911.4" r="6.3" fill="#000"/>
<circle cx="1641.9" cy="2919.0" r="6.3" fill="#000"/>
<circle cx="1655.1" cy="2909.9" r="6.3" fill="#000"/>
<circle cx="1614.8" cy="2845.2" r="6.3" fill="#000"/>
<circle cx="1659.0" cy="2824.1" r="6.3" fill="#000"/>
<circle cx="1666.6" cy="2842.2" r="6.3" fill="#000"/>
<circle cx="1675.6" cy="2824.7" r="6.3" fill="#000"/>
<circle cx="1662.0" cy="2830.1" r="6.3" fill="#000"/>
<circle cx="1683.1" cy="2870.8" r="6.3" fill="#000"/>
<circle cx="1684.6" cy="2878.3" r="6.3" fill="#000"/>
<circle cx="1668.1" cy="2931.0" r="6.3" fill="#000"/>
<circle cx="1771.2" cy="2660.9" r="6.3" fill="#000"/>
<circle cx="1796.5" cy="2678.3" r="6.3" fill="#000"/>
<circle cx="1775.9" cy="2699.4" r="6.3" fill="#000"/>
<circle cx="1790.9" cy="2755.8" r="6.3" fill="#000"/>
<circle cx="1789.0" cy="2795.0" r="6.3" fill="#000"/>
<circle cx="1792.7" cy="2797.8" r="6.3" fill="#000"/>
<circle cx="1796.5" cy="2795.0" r="6.3" fill="#000"/>
<circle cx="1779.6" cy="2810.8" r="6.3" fill="#000"/>
<circle cx="1781.5" cy="2823.9" r="6.3" fill="#000"/>
<circle cx="1787.1" cy="2824.8" r="6.3" fill="#000"/>
<circle cx="1762.8" cy="2840.7" r="6.3" fill="#000"/>
<circle cx="1761.0" cy="2847.2" r="6.3" fill="#000"/>
<circle cx="1774.0" cy="2873.4" r="6.3" fill="#000"/>
<circle cx="1719.0" cy="2684.8" r="6.3" fill="#000"/>
<circle cx="1716.2" cy="2694.1" r="6.3" fill="#000"/>
<circle cx="1698.4" cy="2695.1" r="6.3" fill="#000"/>
<circle cx="1669.5" cy="2715.6" r="6.3" fill="#000"/>
<circle cx="1696.6" cy="2718.4" r="6.3" fill="#000"/>
<circle cx="1680.7" cy="2732.4" r="6.3" fill="#000"/>
<circle cx="1687.2" cy="2729.6" r="6.3" fill="#000"/>
<circle cx="1694.7" cy="2731.5" r="6.3" fill="#000"/>
<circle cx="1688.2" cy="2741.8" r="6.3" fill="#000"/>
<circle cx="1690.0" cy="2752.0" r="6.3" fill="#000"/>
<circle cx="1730.2" cy="2707.2" r="6.3" fill="#000"/>
<circle cx="1745.1" cy="2710.0" r="6.3" fill="#000"/>
<circle cx="1753.5" cy="2714.7" r="6.3" fill="#000"/>
<circle cx="1750.7" cy="2724.0" r="6.3" fill="#000"/>
<circle cx="1747.9" cy="2741.8" r="6.3" fill="#000"/>
<circle cx="1757.2" cy="2752.0" r="6.3" fill="#000"/>
<circle cx="1766.6" cy="2752.0" r="6.3" fill="#000"/>
<circle cx="1713.4" cy="2758.6" r="6.3" fill="#000"/>
<circle cx="1720.8" cy="2764.2" r="6.3" fill="#000"/>
<circle cx="1677.0" cy="2768.8" r="6.3" fill="#000"/>
<circle cx="1661.1" cy="2775.4" r="6.3" fill="#000"/>
<circle cx="1702.2" cy="2784.7" r="6.3" fill="#000"/>
<circle cx="1738.6" cy="2781.0" r="6.3" fill="#000"/>
<circle cx="1742.3" cy="2780.0" r="6.3" fill="#000"/>
<circle cx="1725.5" cy="2796.8" r="6.3" fill="#000"/>
<circle cx="1658.3" cy="2823.9" r="6.3" fill="#000"/>
<circle cx="1664.8" cy="2830.4" r="6.3" fill="#000"/>
<circle cx="1676.0" cy="2824.8" r="6.3" fill="#000"/>
<circle cx="1666.7" cy="2843.5" r="6.3" fill="#000"/>
<circle cx="1614.4" cy="2845.4" r="6.3" fill="#000"/>
<circle cx="1710.6" cy="2840.7" r="6.3" fill="#000"/>
<circle cx="1706.8" cy="2849.1" r="6.3" fill="#000"/>
<circle cx="1735.8" cy="2840.7" r="6.3" fill="#000"/>
<circle cx="1738.6" cy="2837.9" r="6.3" fill="#000"/>
<circle cx="1683.5" cy="2869.6" r="6.3" fill="#000"/>
<circle cx="1685.4" cy="2878.1" r="6.3" fill="#000"/>
<circle cx="1727.4" cy="2875.3" r="6.3" fill="#000"/>
<circle cx="1620.0" cy="2897.7" r="6.3" fill="#000"/>
<circle cx="1640.6" cy="2910.7" r="6.3" fill="#000"/>
<circle cx="1641.5" cy="2918.2" r="6.3" fill="#000"/>
<circle cx="1654.6" cy="2910.7" r="6.3" fill="#000"/>
<circle cx="1595.7" cy="2930.3" r="6.3" fill="#000"/>
<circle cx="1606.0" cy="2927.5" r="6.3" fill="#000"/>
<circle cx="1609.7" cy="2924.7" r="6.3" fill="#000"/>
<circle cx="1614.4" cy="2928.5" r="6.3" fill="#000"/>
<circle cx="1624.7" cy="2922.9" r="6.3" fill="#000"/>
<circle cx="1607.9" cy="2939.7" r="6.3" fill="#000"/>
<circle cx="1633.1" cy="2944.3" r="6.3" fill="#000"/>
<circle cx="1627.5" cy="2961.1" r="6.3" fill="#000"/>
<circle cx="1671.4" cy="2933.1" r="6.3" fill="#000"/>
<circle cx="1599.5" cy="2977.0" r="6.3" fill="#000"/>
<circle cx="1620.9" cy="2995.7" r="6.3" fill="#000"/>
<circle cx="1628.4" cy="2989.1" r="6.3" fill="#000"/>
<circle cx="1635.9" cy="3011.5" r="6.3" fill="#000"/>
<circle cx="1578.0" cy="3024.6" r="6.3" fill="#000"/>
<circle cx="1570.5" cy="3027.4" r="6.3" fill="#000"/>
<circle cx="1583.6" cy="3030.2" r="6.3" fill="#000"/>
<circle cx="1574.3" cy="3034.0" r="6.3" fill="#000"/>
<circle cx="1594.8" cy="3044.2" r="6.3" fill="#000"/>
<circle cx="1587.3" cy="3046.1" r="6.3" fill="#000"/>
<circle cx="1606.0" cy="3026.5" r="6.3" fill="#000"/>
<circle cx="1651.8" cy="3037.7" r="6.3" fill="#000"/>
<circle cx="1643.4" cy="3054.5" r="6.3" fill="#000"/>
<circle cx="1649.0" cy="3060.1" r="6.3" fill="#000"/>
<circle cx="1650.8" cy="3063.8" r="6.3" fill="#000"/>
<circle cx="1564.0" cy="3073.2" r="6.3" fill="#000"/>
<circle cx="1592.0" cy="3074.1" r="6.3" fill="#000"/>
<circle cx="1646.2" cy="3077.8" r="6.3" fill="#000"/>
<circle cx="1568.7" cy="3052.6" r="6.3" fill="#000"/>
<circle cx="2005.7" cy="2578.6" r="6.3" fill="#000"/>
<circle cx="2066.0" cy="2602.7" r="6.3" fill="#000"/>
<circle cx="2072.0" cy="2605.7" r="6.3" fill="#000"/>
<circle cx="2041.9" cy="2613.3" r="6.3" fill="#000"/>
<circle cx="2099.1" cy="2614.8" r="6.3" fill="#000"/>
<circle cx="2088.6" cy="2622.3" r="6.3" fill="#000"/>
<circle cx="2094.6" cy="2626.8" r="6.3" fill="#000"/>
<circle cx="1983.1" cy="2628.3" r="6.3" fill="#000"/>
<circle cx="1924.4" cy="2626.8" r="6.3" fill="#000"/>
<circle cx="1930.4" cy="2625.3" r="6.3" fill="#000"/>
<circle cx="1921.4" cy="2628.9" r="6.3" fill="#000"/>
<circle cx="2029.8" cy="2632.8" r="6.3" fill="#000"/>
<circle cx="2043.4" cy="2634.9" r="6.3" fill="#000"/>
<circle cx="2075.0" cy="2639.8" r="6.3" fill="#000"/>
<circle cx="2081.0" cy="2643.4" r="6.3" fill="#000"/>
<circle cx="2106.6" cy="2640.4" r="6.3" fill="#000"/>
<circle cx="2108.1" cy="2649.4" r="6.3" fill="#000"/>
<circle cx="1993.7" cy="2646.4" r="6.3" fill="#000"/>
<circle cx="2004.2" cy="2644.9" r="6.3" fill="#000"/>
<circle cx="2013.3" cy="2646.4" r="6.3" fill="#000"/>
<circle cx="2020.8" cy="2647.9" r="6.3" fill="#000"/>
<circle cx="2025.3" cy="2650.9" r="6.3" fill="#000"/>
<circle cx="2031.3" cy="2653.9" r="6.3" fill="#000"/>
<circle cx="2035.8" cy="2656.9" r="6.3" fill="#000"/>
<circle cx="2063.0" cy="2657.8" r="6.3" fill="#000"/>
<circle cx="1898.8" cy="2652.4" r="6.3" fill="#000"/>
<circle cx="1901.8" cy="2656.9" r="6.3" fill="#000"/>
<circle cx="1957.5" cy="2657.8" r="6.3" fill="#000"/>
<circle cx="1953.0" cy="2662.0" r="6.3" fill="#000"/>
<circle cx="1975.6" cy="2658.4" r="6.3" fill="#000"/>
<circle cx="1983.1" cy="2664.5" r="6.3" fill="#000"/>
<circle cx="1990.7" cy="2667.5" r="6.3" fill="#000"/>
<circle cx="1999.7" cy="2669.0" r="6.3" fill="#000"/>
<circle cx="2016.3" cy="2670.5" r="6.3" fill="#000"/>
<circle cx="2025.3" cy="2673.5" r="6.3" fill="#000"/>
<circle cx="2034.3" cy="2675.0" r="6.3" fill="#000"/>
<circle cx="2049.4" cy="2669.0" r="6.3" fill="#000"/>
<circle cx="2055.4" cy="2666.0" r="6.3" fill="#000"/>
<circle cx="2059.9" cy="2672.0" r="6.3" fill="#000"/>
<circle cx="1797.9" cy="2678.0" r="6.3" fill="#000"/>
<circle cx="1806.9" cy="2682.5" r="6.3" fill="#000"/>
<circle cx="1832.5" cy="2672.0" r="6.3" fill="#000"/>
<circle cx="1867.2" cy="2670.5" r="6.3" fill="#000"/>
<circle cx="1874.7" cy="2669.0" r="6.3" fill="#000"/>
<circle cx="1880.7" cy="2672.0" r="6.3" fill="#000"/>
<circle cx="1883.7" cy="2676.5" r="6.3" fill="#000"/>
<circle cx="1871.7" cy="2679.5" r="6.3" fill="#000"/>
<circle cx="1826.5" cy="2697.0" r="6.3" fill="#000"/>
<circle cx="2014.8" cy="2678.0" r="6.3" fill="#000"/>
<circle cx="2016.3" cy="2682.5" r="6.3" fill="#000"/>
<circle cx="2001.2" cy="2687.0" r="6.3" fill="#000"/>
<circle cx="2011.7" cy="2691.6" r="6.3" fill="#000"/>
<circle cx="2052.4" cy="2693.1" r="6.3" fill="#000"/>
<circle cx="2069.0" cy="2700.6" r="6.3" fill="#000"/>
<circle cx="2081.0" cy="2685.5" r="6.3" fill="#000"/>
<circle cx="2093.1" cy="2697.6" r="6.3" fill="#000"/>
<circle cx="2100.6" cy="2690.1" r="6.3" fill="#000"/>
<circle cx="1906.3" cy="2688.6" r="6.3" fill="#000"/>
<circle cx="1950.0" cy="2691.6" r="6.3" fill="#000"/>
<circle cx="1959.0" cy="2697.6" r="6.3" fill="#000"/>
<circle cx="1965.1" cy="2700.6" r="6.3" fill="#000"/>
<circle cx="1840.1" cy="2712.0" r="6.3" fill="#000"/>
<circle cx="1856.6" cy="2702.1" r="6.3" fill="#000"/>
<circle cx="1895.8" cy="2702.1" r="6.3" fill="#000"/>
<circle cx="1922.9" cy="2708.1" r="6.3" fill="#000"/>
<circle cx="1928.9" cy="2714.2" r="6.3" fill="#000"/>
<circle cx="1933.4" cy="2718.7" r="6.3" fill="#000"/>
<circle cx="1925.9" cy="2721.7" r="6.3" fill="#000"/>
<circle cx="1995.2" cy="2712.7" r="6.3" fill="#000"/>
<circle cx="1998.2" cy="2717.2" r="6.3" fill="#000"/>
<circle cx="1879.2" cy="2717.2" r="6.3" fill="#000"/>
<circle cx="1823.5" cy="2732.2" r="6.3" fill="#000"/>
<circle cx="1829.5" cy="2730.7" r="6.3" fill="#000"/>
<circle cx="1832.5" cy="2736.7" r="6.3" fill="#000"/>
<circle cx="1837.0" cy="2730.7" r="6.3" fill="#000"/>
<circle cx="1828.0" cy="2739.8" r="6.3" fill="#000"/>
<circle cx="1859.6" cy="2729.2" r="6.3" fill="#000"/>
<circle cx="1865.7" cy="2724.7" r="6.3" fill="#000"/>
<circle cx="2076.5" cy="2727.7" r="6.3" fill="#000"/>
<circle cx="2084.0" cy="2717.2" r="6.3" fill="#000"/>
<circle cx="1814.5" cy="2757.8" r="6.3" fill="#000"/>
<circle cx="1819.0" cy="2753.3" r="6.3" fill="#000"/>
<circle cx="1840.1" cy="2747.3" r="6.3" fill="#000"/>
<circle cx="1850.6" cy="2751.2" r="6.3" fill="#000"/>
<circle cx="1862.7" cy="2760.8" r="6.3" fill="#000"/>
<circle cx="1873.2" cy="2747.3" r="6.3" fill="#000"/>
<circle cx="1886.7" cy="2754.2" r="6.3" fill="#000"/>
<circle cx="1891.3" cy="2742.8" r="6.3" fill="#000"/>
<circle cx="1903.3" cy="2756.3" r="6.3" fill="#000"/>
<circle cx="1909.3" cy="2750.3" r="6.3" fill="#000"/>
<circle cx="1913.9" cy="2753.3" r="6.3" fill="#000"/>
<circle cx="1936.4" cy="2739.8" r="6.3" fill="#000"/>
<circle cx="1944.0" cy="2738.3" r="6.3" fill="#000"/>
<circle cx="1953.0" cy="2739.8" r="6.3" fill="#000"/>
<circle cx="1959.0" cy="2739.8" r="6.3" fill="#000"/>
<circle cx="1966.6" cy="2738.3" r="6.3" fill="#000"/>
<circle cx="1972.6" cy="2742.8" r="6.3" fill="#000"/>
<circle cx="1981.6" cy="2732.2" r="6.3" fill="#000"/>
<circle cx="1844.6" cy="2772.9" r="6.3" fill="#000"/>
<circle cx="1850.6" cy="2781.9" r="6.3" fill="#000"/>
<circle cx="1939.5" cy="2762.3" r="6.3" fill="#000"/>
<circle cx="1948.5" cy="2774.4" r="6.3" fill="#000"/>
<circle cx="1965.1" cy="2777.4" r="6.3" fill="#000"/>
<circle cx="1974.1" cy="2777.4" r="6.3" fill="#000"/>
<circle cx="1889.8" cy="2789.5" r="6.3" fill="#000"/>
<circle cx="1802.4" cy="2791.0" r="6.3" fill="#000"/>
<circle cx="1808.4" cy="2794.0" r="6.3" fill="#000"/>
<circle cx="1816.0" cy="2791.0" r="6.3" fill="#000"/>
<circle cx="1822.0" cy="2788.0" r="6.3" fill="#000"/>
<circle cx="1853.6" cy="2802.4" r="6.3" fill="#000"/>
<circle cx="1925.9" cy="2824.1" r="6.3" fill="#000"/>
<circle cx="1809.9" cy="2842.8" r="6.3" fill="#000"/>
<circle cx="1916.9" cy="2849.1" r="6.3" fill="#000"/>
<circle cx="1423.1" cy="3074.3" r="6.3" fill="#000"/>
<circle cx="1541.1" cy="3069.1" r="6.3" fill="#000"/>
<circle cx="1437.0" cy="3074.6" r="6.3" fill="#000"/>
<circle cx="1356.2" cy="3073.7" r="6.3" fill="#000"/>
<circle cx="1467.5" cy="3072.7" r="6.3" fill="#000"/>
<circle cx="1333.5" cy="3070.9" r="6.3" fill="#000"/>
<circle cx="1332.7" cy="3077.5" r="6.3" fill="#000"/>
<circle cx="1483.4" cy="3064.5" r="6.3" fill="#000"/>
<circle cx="1555.5" cy="3074.6" r="6.3" fill="#000"/>
<circle cx="1473.5" cy="3070.8" r="6.3" fill="#000"/>
<circle cx="1349.4" cy="3067.2" r="6.3" fill="#000"/>
<circle cx="1442.1" cy="3064.7" r="6.3" fill="#000"/>
<circle cx="1357.6" cy="3070.1" r="6.3" fill="#000"/>
<circle cx="1317.5" cy="3073.0" r="6.3" fill="#000"/>
<circle cx="1420.1" cy="3078.0" r="6.3" fill="#000"/>
<circle cx="1439.8" cy="3075.3" r="6.3" fill="#000"/>
<circle cx="1434.9" cy="3075.6" r="6.3" fill="#000"/>
<circle cx="1424.3" cy="3070.6" r="6.3" fill="#000"/>
<circle cx="1559.4" cy="3075.0" r="6.3" fill="#000"/>
<circle cx="1520.1" cy="3071.8" r="6.3" fill="#000"/>
<circle cx="1388.8" cy="3070.0" r="6.3" fill="#000"/>
<circle cx="1382.3" cy="3067.9" r="6.3" fill="#000"/>
<circle cx="1501.6" cy="3068.4" r="6.3" fill="#000"/>
<circle cx="1521.6" cy="3068.3" r="6.3" fill="#000"/>
<circle cx="1549.5" cy="3073.3" r="6.3" fill="#000"/>
<circle cx="1310.1" cy="3069.7" r="6.3" fill="#000"/>
<circle cx="1537.6" cy="3069.2" r="6.3" fill="#000"/>
<circle cx="1555.1" cy="3068.4" r="6.3" fill="#000"/>
<circle cx="1328.3" cy="3075.2" r="6.3" fill="#000"/>
<circle cx="1504.6" cy="3067.0" r="6.3" fill="#000"/>
<circle cx="1331.8" cy="3071.3" r="6.3" fill="#000"/>
<circle cx="1551.0" cy="3072.3" r="6.3" fill="#000"/>
<circle cx="1339.5" cy="3070.2" r="6.3" fill="#000"/>
<circle cx="1335.3" cy="3067.8" r="6.3" fill="#000"/>
<circle cx="1509.3" cy="3066.0" r="6.3" fill="#000"/>
<circle cx="1449.8" cy="3068.9" r="6.3" fill="#000"/>
<circle cx="1357.7" cy="3076.5" r="6.3" fill="#000"/>
<circle cx="1342.7" cy="3075.4" r="6.3" fill="#000"/>
<circle cx="1339.1" cy="3072.5" r="6.3" fill="#000"/>
<circle cx="1363.2" cy="3070.5" r="6.3" fill="#000"/>
<circle cx="1552.7" cy="3072.8" r="6.3" fill="#000"/>
<circle cx="1386.0" cy="3078.5" r="6.3" fill="#000"/>
<circle cx="1362.7" cy="3072.1" r="6.3" fill="#000"/>
<circle cx="1523.6" cy="3071.1" r="6.3" fill="#000"/>
<circle cx="1335.1" cy="3079.9" r="6.3" fill="#000"/>
<circle cx="1363.3" cy="3070.4" r="6.3" fill="#000"/>
<circle cx="1503.2" cy="3067.6" r="6.3" fill="#000"/>
<circle cx="1384.1" cy="3068.0" r="6.3" fill="#000"/>
<circle cx="1332.5" cy="3074.6" r="6.3" fill="#000"/>
<circle cx="1370.8" cy="3074.8" r="6.3" fill="#000"/>
<circle cx="1402.9" cy="3072.9" r="6.3" fill="#000"/>
<circle cx="1549.8" cy="3069.3" r="6.3" fill="#000"/>
<circle cx="1453.6" cy="3073.5" r="6.3" fill="#000"/>
<circle cx="1355.7" cy="3069.0" r="6.3" fill="#000"/>
<circle cx="1537.1" cy="3073.0" r="6.3" fill="#000"/>
<circle cx="1372.4" cy="3069.5" r="6.3" fill="#000"/>
<circle cx="1494.9" cy="3074.3" r="6.3" fill="#000"/>
<circle cx="1359.1" cy="3079.4" r="6.3" fill="#000"/>
<circle cx="1530.5" cy="3070.6" r="6.3" fill="#000"/>
<circle cx="1415.4" cy="3068.3" r="6.3" fill="#000"/>
<circle cx="1319.7" cy="3079.5" r="6.3" fill="#000"/>
<circle cx="1369.6" cy="3076.2" r="6.3" fill="#000"/>
<circle cx="1374.2" cy="3077.7" r="6.3" fill="#000"/>
<circle cx="1459.1" cy="3067.2" r="6.3" fill="#000"/>
<circle cx="1353.9" cy="3076.4" r="6.3" fill="#000"/>
<circle cx="1327.2" cy="3070.0" r="6.3" fill="#000"/>
<circle cx="1449.8" cy="3073.4" r="6.3" fill="#000"/>
<circle cx="1463.6" cy="3067.1" r="6.3" fill="#000"/>
<circle cx="1539.3" cy="3066.2" r="6.3" fill="#000"/>
<circle cx="1314.1" cy="3070.5" r="6.3" fill="#000"/>
<circle cx="1421.4" cy="3067.8" r="6.3" fill="#000"/>
<circle cx="1354.1" cy="3071.8" r="6.3" fill="#000"/>
<circle cx="1453.0" cy="3065.4" r="6.3" fill="#000"/>
<circle cx="1400.5" cy="3078.6" r="6.3" fill="#000"/>
<circle cx="1555.1" cy="3071.2" r="6.3" fill="#000"/>
<circle cx="1482.8" cy="3070.4" r="6.3" fill="#000"/>
<circle cx="1345.1" cy="3067.5" r="6.3" fill="#000"/>
<circle cx="1314.5" cy="3078.8" r="6.3" fill="#000"/>
<circle cx="1485.2" cy="3074.6" r="6.3" fill="#000"/>
<circle cx="1315.3" cy="3075.3" r="6.3" fill="#000"/>
<circle cx="1430.6" cy="3076.5" r="6.3" fill="#000"/>
<circle cx="1389.7" cy="3080.0" r="6.3" fill="#000"/>
<circle cx="1328.8" cy="3074.1" r="6.3" fill="#000"/>
<circle cx="1494.3" cy="3073.9" r="6.3" fill="#000"/>
<circle cx="1494.3" cy="3071.7" r="6.3" fill="#000"/>
<circle cx="1508.3" cy="3074.1" r="6.3" fill="#000"/>
<circle cx="1398.0" cy="3075.9" r="6.3" fill="#000"/>
<circle cx="1535.2" cy="3073.6" r="6.3" fill="#000"/>
<circle cx="1414.3" cy="3077.3" r="6.3" fill="#000"/>
<circle cx="1525.9" cy="3070.3" r="6.3" fill="#000"/>
<circle cx="1466.2" cy="3068.2" r="6.3" fill="#000"/>
<circle cx="1455.7" cy="3070.7" r="6.3" fill="#000"/>
<circle cx="1330.1" cy="3075.3" r="6.3" fill="#000"/>
<circle cx="1558.3" cy="3073.7" r="6.3" fill="#000"/>
<circle cx="1492.1" cy="3068.3" r="6.3" fill="#000"/>
<circle cx="1493.8" cy="3070.4" r="6.3" fill="#000"/>
<circle cx="1420.1" cy="3077.9" r="6.3" fill="#000"/>
<circle cx="1330.9" cy="3076.8" r="6.3" fill="#000"/>
<circle cx="1317.4" cy="3074.8" r="6.3" fill="#000"/>
<circle cx="1430.2" cy="3070.0" r="6.3" fill="#000"/>
<circle cx="1484.6" cy="3069.5" r="6.3" fill="#000"/>
<circle cx="1463.6" cy="3074.1" r="6.3" fill="#000"/>
<circle cx="1374.0" cy="3067.1" r="6.3" fill="#000"/>
<circle cx="1385.3" cy="3075.8" r="6.3" fill="#000"/>
<circle cx="1360.6" cy="3069.2" r="6.3" fill="#000"/>
<circle cx="1536.4" cy="3071.3" r="6.3" fill="#000"/>
<circle cx="1420.5" cy="3078.6" r="6.3" fill="#000"/>
<circle cx="1391.7" cy="3075.7" r="6.3" fill="#000"/>
<circle cx="1359.6" cy="3072.6" r="6.3" fill="#000"/>
<circle cx="1511.5" cy="3074.1" r="6.3" fill="#000"/>
<circle cx="1530.1" cy="3068.2" r="6.3" fill="#000"/>
<circle cx="1455.8" cy="3067.5" r="6.3" fill="#000"/>
<circle cx="1344.0" cy="3073.5" r="6.3" fill="#000"/>
<circle cx="1519.3" cy="3073.3" r="6.3" fill="#000"/>
<circle cx="1487.8" cy="3074.5" r="6.3" fill="#000"/>
<circle cx="1379.2" cy="3069.2" r="6.3" fill="#000"/>
<circle cx="1422.7" cy="3070.6" r="6.3" fill="#000"/>
<circle cx="1363.5" cy="3072.4" r="6.3" fill="#000"/>
<circle cx="1466.4" cy="3069.4" r="6.3" fill="#000"/>
<circle cx="1388.8" cy="3077.9" r="6.3" fill="#000"/>
<circle cx="1555.5" cy="3069.0" r="6.3" fill="#000"/>
<circle cx="1328.7" cy="3067.4" r="6.3" fill="#000"/>
<circle cx="1528.2" cy="3064.5" r="6.3" fill="#000"/>
<circle cx="1487.2" cy="3070.3" r="6.3" fill="#000"/>
<circle cx="1387.3" cy="3077.3" r="6.3" fill="#000"/>
<circle cx="1314.8" cy="3068.8" r="6.3" fill="#000"/>
<circle cx="1423.7" cy="3067.3" r="6.3" fill="#000"/>
<circle cx="1517.4" cy="3066.6" r="6.3" fill="#000"/>
<circle cx="1345.2" cy="3067.6" r="6.3" fill="#000"/>
<circle cx="1467.3" cy="3068.9" r="6.3" fill="#000"/>
<circle cx="1467.5" cy="3071.2" r="6.3" fill="#000"/>
<circle cx="1511.8" cy="3074.5" r="6.3" fill="#000"/>
<circle cx="1481.1" cy="3066.2" r="6.3" fill="#000"/>
<circle cx="1428.8" cy="3069.3" r="6.3" fill="#000"/>
<circle cx="1312.7" cy="3073.1" r="6.3" fill="#000"/>
<circle cx="1488.5" cy="3066.0" r="6.3" fill="#000"/>
<circle cx="1378.1" cy="3071.5" r="6.3" fill="#000"/>
<circle cx="1484.3" cy="3069.7" r="6.3" fill="#000"/>
<circle cx="1463.6" cy="3072.3" r="6.3" fill="#000"/>
<circle cx="1408.4" cy="3077.3" r="6.3" fill="#000"/>
<circle cx="1536.6" cy="3065.0" r="6.3" fill="#000"/>
<circle cx="1543.2" cy="3071.9" r="6.3" fill="#000"/>
<circle cx="1342.5" cy="3072.9" r="6.3" fill="#000"/>
<circle cx="1466.4" cy="3074.0" r="6.3" fill="#000"/>
<circle cx="1404.2" cy="3074.4" r="6.3" fill="#000"/>
<circle cx="1529.8" cy="3072.8" r="6.3" fill="#000"/>
<circle cx="1546.1" cy="3069.1" r="6.3" fill="#000"/>
<circle cx="1472.8" cy="3066.3" r="6.3" fill="#000"/>
<circle cx="1490.5" cy="3073.0" r="6.3" fill="#000"/>
<circle cx="1470.4" cy="3071.9" r="6.3" fill="#000"/>
<circle cx="1344.2" cy="3049.2" r="6.3" fill="#000"/>
<circle cx="1356.8" cy="3046.0" r="6.3" fill="#000"/>
<circle cx="1374.3" cy="3050.2" r="6.3" fill="#000"/>
<circle cx="1381.0" cy="3051.0" r="6.3" fill="#000"/>
<circle cx="1400.4" cy="3050.2" r="6.3" fill="#000"/>
<circle cx="1408.5" cy="3047.1" r="6.3" fill="#000"/>
<circle cx="1418.5" cy="3044.1" r="6.3" fill="#000"/>
<circle cx="1426.0" cy="3045.0" r="6.3" fill="#000"/>
<circle cx="1436.6" cy="3040.0" r="6.3" fill="#000"/>
<circle cx="1445.1" cy="3045.2" r="6.3" fill="#000"/>
<circle cx="1503.3" cy="3050.2" r="6.3" fill="#000"/>
<circle cx="1516.3" cy="3043.2" r="6.3" fill="#000"/>
<circle cx="1530.4" cy="3047.2" r="6.3" fill="#000"/>
<circle cx="1535.4" cy="3042.2" r="6.3" fill="#000"/>
<circle cx="1553.5" cy="3037.1" r="6.3" fill="#000"/>
<circle cx="1557.5" cy="3047.2" r="6.3" fill="#000"/>
<circle cx="1325.0" cy="3052.0" r="6.3" fill="#000"/>
<circle cx="1390.0" cy="3053.0" r="6.3" fill="#000"/>
<circle cx="1462.0" cy="3052.0" r="6.3" fill="#000"/>
<circle cx="1485.0" cy="3053.0" r="6.3" fill="#000"/>
<circle cx="1545.0" cy="3052.0" r="6.3" fill="#000"/>
<circle cx="1460.8" cy="2772.0" r="2" fill="#000"/>
<rect x="1560.3" y="2562.0" width="190.3" height="531.7" fill="none" stroke="#222" stroke-width="3.2"/>
<polyline points="1279.3,3058.0 1299.5,3058.0 1320.0,3058.0 1340.4,3058.0 1360.6,3058.0 1380.5,3058.0 1400.0,3058.0 1417.7,3058.0 1435.5,3058.0 1453.1,3058.0 1469.9,3058.0 1485.7,3058.0 1500.0,3058.0 1508.8,3058.0 1517.2,3058.1 1525.1,3058.1 1532.4,3058.2 1539.1,3058.1 1545.0,3058.0 1548.0,3058.0 1550.8,3058.0 1553.3,3058.0 1555.7,3057.9 1557.9,3057.6 1560.0,3057.0 1561.6,3056.3 1563.0,3055.4 1564.3,3054.4 1565.6,3053.3 1567.0,3052.1 1568.7,3050.8 1572.5,3048.3 1576.9,3045.5 1581.8,3042.4 1586.9,3039.0 1591.9,3035.6 1596.7,3032.0 1601.5,3028.0 1606.3,3023.8 1611.1,3019.4 1615.8,3014.9 1620.3,3010.4 1624.7,3005.9 1628.7,3001.6 1632.7,2997.4 1636.6,2993.1 1640.3,2988.7 1643.8,2984.3 1647.1,2979.8 1649.9,2975.6 1652.5,2971.4 1655.0,2967.1 1657.3,2962.8 1659.7,2958.3 1662.0,2953.7 1664.6,2948.3 1667.2,2942.7 1669.8,2937.0 1672.3,2931.2 1674.7,2925.5 1677.0,2920.0 1679.0,2915.1 1680.9,2910.3 1682.8,2905.6 1684.6,2900.9 1686.4,2896.4 1688.2,2892.0 1689.8,2888.5 1691.4,2885.2 1693.1,2881.9 1694.6,2878.7 1696.1,2875.3 1697.5,2871.5 1699.0,2866.2 1700.3,2860.4 1701.4,2854.3 1702.5,2848.1 1703.7,2841.9 1705.0,2836.0 1706.4,2830.5 1707.8,2825.1 1709.2,2819.8 1710.8,2814.5 1712.4,2809.3 1714.3,2804.3 1716.2,2799.7 1718.2,2795.3 1720.3,2791.0 1722.5,2786.7 1724.9,2782.4 1727.4,2778.2 1730.2,2773.7 1733.1,2769.1 1736.2,2764.5 1739.4,2760.1 1742.7,2755.9 1746.0,2752.0 1749.0,2748.8 1752.0,2745.7 1755.1,2742.9 1758.2,2740.1 1761.4,2737.6 1764.7,2735.2 1767.7,2733.1 1770.6,2731.2 1773.5,2729.4 1776.7,2727.7 1780.2,2726.2 1784.3,2724.7 1792.9,2722.5 1803.0,2720.7 1814.2,2719.2 1826.2,2717.8 1838.5,2716.5 1850.6,2715.0 1864.9,2713.1 1879.7,2711.3 1894.9,2709.5 1910.4,2707.7 1925.8,2705.7 1941.0,2703.6 1956.0,2701.3 1971.0,2698.7 1986.0,2696.0 2001.0,2693.4 2016.1,2690.9 2031.3,2688.6 2047.2,2686.5 2063.2,2684.7 2079.3,2683.0 2095.4,2681.4 2111.6,2679.7 2127.7,2678.0" fill="none" stroke="#e3202c" stroke-width="5.8" stroke-linejoin="round"/>
<line x1="1278.1" y1="2559.9" x2="2138.7" y2="2559.9" stroke="#2a2a2a" stroke-width="2.6"/>
<line x1="1279.3" y1="2559.9" x2="1279.3" y2="3101.7" stroke="#6e6e6e" stroke-width="2.8"/>
<line x1="1278.1" y1="3101.7" x2="2138.7" y2="3101.7" stroke="#5e5e5e" stroke-width="2.6"/>
<line x1="2137.5" y1="2559.9" x2="2137.5" y2="3101.7" stroke="#666" stroke-width="2.6"/>
<text x="63.1" y="3348.0" font-size="96.6" font-weight="bold" font-style="normal" textLength="38.3" lengthAdjust="spacingAndGlyphs" fill="#000">f</text>
<text x="537.6" y="3331.7" font-size="54.7" font-weight="bold" font-style="normal" textLength="182.9" lengthAdjust="spacingAndGlyphs" fill="#000">Human</text>
<line x1="265.5" y1="3359.0" x2="1044.2" y2="3359.0" stroke="#111" stroke-width="3.4"/>
<text x="1714.1" y="3331.8" font-size="55.5" font-weight="bold" font-style="normal" textLength="172.5" lengthAdjust="spacingAndGlyphs" fill="#000">Mouse</text>
<line x1="1422.5" y1="3356.0" x2="2202.9" y2="3356.0" stroke="#111" stroke-width="3.4"/>
<ellipse cx="170.3" cy="3504.3" rx="111.7" ry="112.9" fill="none" stroke="#2474bb" stroke-width="8.4"/>
<ellipse cx="263.6" cy="3510.8" rx="127.2" ry="112.7" fill="none" stroke="#cc5b22" stroke-width="8.4"/>
<text x="71.5" y="3511.8" font-size="44.8" font-weight="bold" font-style="normal" textLength="53.8" lengthAdjust="spacingAndGlyphs" fill="#000" stroke="#fff" stroke-width="0.7">65</text>
<text x="183.3" y="3512.5" font-size="45.8" font-weight="bold" font-style="normal" textLength="52.6" lengthAdjust="spacingAndGlyphs" fill="#000" stroke="#fff" stroke-width="0.7">72</text>
<text x="290.6" y="3512.5" font-size="45.8" font-weight="bold" font-style="normal" textLength="82.2" lengthAdjust="spacingAndGlyphs" fill="#000" stroke="#fff" stroke-width="0.7">102</text>
<text x="81.2" y="3674.0" font-size="44.3" font-weight="bold" font-style="normal" textLength="291.6" lengthAdjust="spacingAndGlyphs" fill="#000" stroke="#fff" stroke-width="0.7">Time point 2</text>
<ellipse cx="536.3" cy="3509.0" rx="116.3" ry="113.3" fill="none" stroke="#2474bb" stroke-width="8.4"/>
<ellipse cx="662.2" cy="3515.2" rx="132.6" ry="113.0" fill="none" stroke="#cc5b22" stroke-width="8.4"/>
<text x="448.4" y="3518.6" font-size="50.4" font-weight="bold" font-style="normal" textLength="53.7" lengthAdjust="spacingAndGlyphs" fill="#000" stroke="#fff" stroke-width="0.7">83</text>
<text x="563.6" y="3517.4" font-size="48.7" font-weight="bold" font-style="normal" textLength="52.9" lengthAdjust="spacingAndGlyphs" fill="#000" stroke="#fff" stroke-width="0.7">38</text>
<text x="665.9" y="3515.0" font-size="48.7" font-weight="bold" font-style="normal" textLength="56.6" lengthAdjust="spacingAndGlyphs" fill="#000" stroke="#fff" stroke-width="0.7">62</text>
<text x="437.7" y="3677.8" font-size="45.2" font-weight="bold" font-style="normal" textLength="317.6" lengthAdjust="spacingAndGlyphs" fill="#000" stroke="#fff" stroke-width="0.7">Time point 12</text>
<ellipse cx="948.8" cy="3511.0" rx="126.3" ry="112.8" fill="none" stroke="#2474bb" stroke-width="8.4"/>
<ellipse cx="1101.0" cy="3516.0" rx="126.3" ry="113.5" fill="none" stroke="#cc5b22" stroke-width="8.4"/>
<text x="866.9" y="3520.2" font-size="50.0" font-weight="bold" font-style="normal" textLength="83.5" lengthAdjust="spacingAndGlyphs" fill="#000" stroke="#fff" stroke-width="0.7">100</text>
<text x="997.9" y="3519.0" font-size="50.0" font-weight="bold" font-style="normal" textLength="52.6" lengthAdjust="spacingAndGlyphs" fill="#000" stroke="#fff" stroke-width="0.7">37</text>
<text x="1092.6" y="3520.2" font-size="50.0" font-weight="bold" font-style="normal" textLength="56.2" lengthAdjust="spacingAndGlyphs" fill="#000" stroke="#fff" stroke-width="0.7">87</text>
<text x="863.6" y="3678.1" font-size="48.3" font-weight="bold" font-style="normal" textLength="318.2" lengthAdjust="spacingAndGlyphs" fill="#000" stroke="#fff" stroke-width="0.7">Time point 22</text>
<ellipse cx="1415.7" cy="3502.5" rx="112.3" ry="113.0" fill="none" stroke="#2474bb" stroke-width="8.4"/>
<ellipse cx="1496.0" cy="3507.5" rx="111.6" ry="112.6" fill="none" stroke="#cc5b22" stroke-width="8.4"/>
<text x="1316.5" y="3509.3" font-size="46.3" font-weight="bold" font-style="normal" textLength="53.7" lengthAdjust="spacingAndGlyphs" fill="#000" stroke="#fff" stroke-width="0.7">73</text>
<text x="1411.6" y="3507.9" font-size="47.7" font-weight="bold" font-style="normal" textLength="81.9" lengthAdjust="spacingAndGlyphs" fill="#000" stroke="#fff" stroke-width="0.7">124</text>
<text x="1537.6" y="3510.2" font-size="47.6" font-weight="bold" font-style="normal" textLength="54.4" lengthAdjust="spacingAndGlyphs" fill="#000" stroke="#fff" stroke-width="0.7">69</text>
<text x="1319.5" y="3680.2" font-size="47.9" font-weight="bold" font-style="normal" textLength="288.9" lengthAdjust="spacingAndGlyphs" fill="#000" stroke="#fff" stroke-width="0.7">Time point 2</text>
<ellipse cx="1762.3" cy="3506.0" rx="111.6" ry="111.6" fill="none" stroke="#2474bb" stroke-width="8.4"/>
<ellipse cx="1842.7" cy="3510.8" rx="110.8" ry="112.6" fill="none" stroke="#cc5b22" stroke-width="8.4"/>
<text x="1663.0" y="3513.9" font-size="47.7" font-weight="bold" font-style="normal" textLength="52.8" lengthAdjust="spacingAndGlyphs" fill="#000" stroke="#fff" stroke-width="0.7">73</text>
<text x="1759.0" y="3512.5" font-size="47.6" font-weight="bold" font-style="normal" textLength="80.0" lengthAdjust="spacingAndGlyphs" fill="#000" stroke="#fff" stroke-width="0.7">124</text>
<text x="1881.7" y="3513.9" font-size="47.7" font-weight="bold" font-style="normal" textLength="54.4" lengthAdjust="spacingAndGlyphs" fill="#000" stroke="#fff" stroke-width="0.7">69</text>
<text x="1649.8" y="3677.9" font-size="47.9" font-weight="bold" font-style="normal" textLength="311.9" lengthAdjust="spacingAndGlyphs" fill="#000" stroke="#fff" stroke-width="0.7">Time point 12</text>
<ellipse cx="2101.3" cy="3507.8" rx="125.0" ry="113.4" fill="none" stroke="#2474bb" stroke-width="8.4"/>
<ellipse cx="2191.5" cy="3511.5" rx="112.3" ry="113.4" fill="none" stroke="#cc5b22" stroke-width="8.4"/>
<text x="1986.6" y="3513.3" font-size="49.9" font-weight="bold" font-style="normal" textLength="82.3" lengthAdjust="spacingAndGlyphs" fill="#000" stroke="#fff" stroke-width="0.7">118</text>
<text x="2123.9" y="3514.5" font-size="49.9" font-weight="bold" font-style="normal" textLength="51.8" lengthAdjust="spacingAndGlyphs" fill="#000" stroke="#fff" stroke-width="0.7">79</text>
<text x="2235.8" y="3512.0" font-size="48.0" font-weight="bold" font-style="normal" textLength="55.1" lengthAdjust="spacingAndGlyphs" fill="#000" stroke="#fff" stroke-width="0.7">69</text>
<text x="1995.5" y="3678.4" font-size="46.2" font-weight="bold" font-style="normal" textLength="316.6" lengthAdjust="spacingAndGlyphs" fill="#000" stroke="#fff" stroke-width="0.7">Time point 22</text>
<rect x="1524.8" y="3720.1" width="759.9" height="93.6" fill="none" stroke="#111" stroke-width="3.6"/>
<circle cx="1581.4" cy="3770" r="22.7" fill="none" stroke="#2474bb" stroke-width="7.4"/>
<circle cx="1955.5" cy="3770" r="23.5" fill="none" stroke="#cc5b22" stroke-width="7.4"/>
<text x="1607.2" y="3784.6" font-size="47.4" font-weight="bold" font-style="normal" textLength="243.2" lengthAdjust="spacingAndGlyphs" fill="#000">Monocle 2</text>
<text x="2015.2" y="3784.6" font-size="49.5" font-weight="bold" font-style="normal" textLength="230.5" lengthAdjust="spacingAndGlyphs" fill="#000">SlingShot</text>
</svg></body></html>
